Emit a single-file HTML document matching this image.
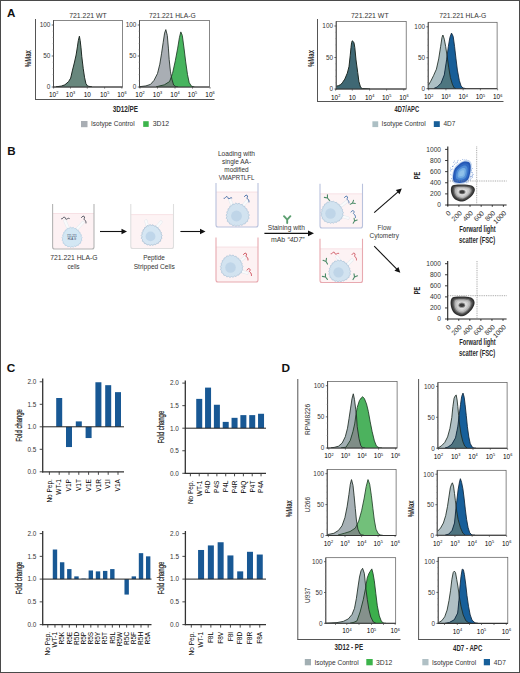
<!DOCTYPE html>
<html><head><meta charset="utf-8"><style>
html,body{margin:0;padding:0;background:#fff;}
body{width:520px;height:673px;overflow:hidden;}
svg{display:block;font-family:"Liberation Sans",sans-serif;}
</style></head><body>
<svg width="520" height="673" viewBox="0 0 520 673">
<rect x="0" y="0" width="520" height="673" fill="#fff"/>
<text x="7" y="16.8" font-size="11.6" fill="#111" font-weight="bold">A</text>
<line x1="35.5" y1="19" x2="35.5" y2="99.5" stroke="#555" stroke-width="1"/>
<line x1="35" y1="99.5" x2="214.5" y2="99.5" stroke="#555" stroke-width="1"/>
<text x="69.2" y="17.7" font-size="6.8" fill="#333" textLength="37.5" lengthAdjust="spacingAndGlyphs">721.221 WT</text>
<text x="149" y="17.7" font-size="6.8" fill="#333" textLength="46.8" lengthAdjust="spacingAndGlyphs">721.221 HLA-G</text>
<text x="31" y="58.7" font-size="9.4" text-anchor="middle" fill="#2a2a2a" font-weight="bold" textLength="17" lengthAdjust="spacingAndGlyphs" transform="rotate(-90 31 58.7)">%Max</text>
<rect x="53.5" y="20.5" width="69" height="66.5" fill="none" stroke="#555" stroke-width="0.7" />
<clipPath id="c1"><rect x="53.5" y="20.5" width="69" height="66.5"/></clipPath>
<g clip-path="url(#c1)">
<path d="M55.5,87 L55.5,86.8 L56,86.8 L56.5,86.73 L57,86.67 L57.5,86.6 L58,86.54 L58.5,86.47 L59,86.4 L59.5,86.34 L60,86.27 L60.5,86.21 L61,86.14 L61.5,86.03 L62,85.85 L62.5,85.67 L63,85.49 L63.5,85.31 L64,85.12 L64.5,84.94 L65,84.71 L65.5,84.28 L66,83.85 L66.5,83.42 L67,82.99 L67.5,82.56 L68,82.13 L68.5,81.7 L69,80.88 L69.5,80.06 L70,79.25 L70.5,78.43 L71,76.77 L71.5,74.54 L72,72.32 L72.5,70.1 L73,68.13 L73.5,66.16 L74,64.18 L74.5,62.11 L75,59.89 L75.5,57.67 L76,55.44 L76.5,52.51 L77,49.39 L77.5,46.21 L78,42.77 L78.5,39.88 L79,37.84 L79.5,36.76 L80,39.57 L80.5,43.36 L81,47.8 L81.5,53.36 L82,58.36 L82.5,62.5 L83,66.64 L83.5,70.35 L84,73.78 L84.5,77.2 L85,79.45 L85.5,81.7 L86,83.65 L86.5,84.42 L87,85.18 L87.5,85.95 L88,86.17 L88.5,86.26 L89,86.35 L89.5,86.45 L90,86.54 L90.5,86.63 L91,86.72 L91.5,86.81 L92,86.9 L92.5,86.9 L92.5,87Z" fill="#68877d"/>
<path d="M56,86.8 L61.3,86.1 L64.9,84.8 L68.5,81.7 L70.7,78.1 L72.5,70.1 L74.3,63 L76.1,55 L77.4,46.9 L78.3,40.7 L79.4,36.2 L80.2,40.7 L81,47.8 L81.8,56.7 L83.2,68.3 L84.5,77.2 L85.9,83.5 L87.6,86.1 L92,86.9" fill="none" stroke="#1e2a24" stroke-width="1.0" stroke-linejoin="round"/>
</g>
<line x1="53.5" y1="20.5" x2="53.5" y2="87.5" stroke="#444" stroke-width="0.9"/>
<line x1="53" y1="87" x2="122.5" y2="87" stroke="#333" stroke-width="1.1"/>
<line x1="51.7" y1="25" x2="53.5" y2="25" stroke="#444" stroke-width="0.8"/>
<text x="50.3" y="27.3" font-size="6.4" text-anchor="end" fill="#333">100</text>
<line x1="51.7" y1="56" x2="53.5" y2="56" stroke="#444" stroke-width="0.8"/>
<text x="50.3" y="58.3" font-size="6.4" text-anchor="end" fill="#333">50</text>
<line x1="51.7" y1="87" x2="53.5" y2="87" stroke="#444" stroke-width="0.8"/>
<text x="50.3" y="89.3" font-size="6.4" text-anchor="end" fill="#333">0</text>
<line x1="52.5" y1="80.8" x2="53.5" y2="80.8" stroke="#888" stroke-width="0.5"/>
<line x1="52.5" y1="74.6" x2="53.5" y2="74.6" stroke="#888" stroke-width="0.5"/>
<line x1="52.5" y1="68.4" x2="53.5" y2="68.4" stroke="#888" stroke-width="0.5"/>
<line x1="52.5" y1="62.2" x2="53.5" y2="62.2" stroke="#888" stroke-width="0.5"/>
<line x1="52.5" y1="49.8" x2="53.5" y2="49.8" stroke="#888" stroke-width="0.5"/>
<line x1="52.5" y1="43.6" x2="53.5" y2="43.6" stroke="#888" stroke-width="0.5"/>
<line x1="52.5" y1="37.4" x2="53.5" y2="37.4" stroke="#888" stroke-width="0.5"/>
<line x1="52.5" y1="31.2" x2="53.5" y2="31.2" stroke="#888" stroke-width="0.5"/>
<line x1="53.6" y1="87" x2="53.6" y2="88.6" stroke="#444" stroke-width="0.7"/>
<text x="48.97" y="96.6" font-size="6.4">10</text>
<text x="56.19" y="93.9" font-size="3.84">2</text>
<line x1="70.5" y1="87" x2="70.5" y2="88.6" stroke="#444" stroke-width="0.7"/>
<text x="65.87" y="96.6" font-size="6.4">10</text>
<text x="73.09" y="93.9" font-size="3.84">3</text>
<line x1="87.3" y1="87" x2="87.3" y2="88.6" stroke="#444" stroke-width="0.7"/>
<text x="83.74" y="96.6" font-size="6.4">10</text>
<line x1="104.6" y1="87" x2="104.6" y2="88.6" stroke="#444" stroke-width="0.7"/>
<text x="99.97" y="96.6" font-size="6.4">10</text>
<text x="107.19" y="93.9" font-size="3.84">5</text>
<line x1="121.9" y1="87" x2="121.9" y2="88.6" stroke="#444" stroke-width="0.7"/>
<text x="117.27" y="96.6" font-size="6.4">10</text>
<text x="124.49" y="93.9" font-size="3.84">6</text>
<rect x="139.5" y="20.5" width="70" height="66.5" fill="none" stroke="#555" stroke-width="0.7" />
<clipPath id="c2"><rect x="139.5" y="20.5" width="70" height="66.5"/></clipPath>
<g clip-path="url(#c2)">
<path d="M139.5,87 L139.5,86.7 L140,86.64 L140.5,86.58 L141,86.51 L141.5,86.45 L142,86.39 L142.5,86.33 L143,86.26 L143.5,86.2 L144,86.14 L144.5,86.08 L145,86.01 L145.5,85.95 L146,85.87 L146.5,85.7 L147,85.54 L147.5,85.38 L148,85.22 L148.5,85.05 L149,84.89 L149.5,84.73 L150,84.56 L150.5,84.4 L151,83.83 L151.5,83.26 L152,82.69 L152.5,82.11 L153,81.54 L153.5,80.97 L154,80.4 L154.5,79.41 L155,78.43 L155.5,77.44 L156,76.46 L156.5,75.47 L157,74.49 L157.5,73.5 L158,71.48 L158.5,69.46 L159,67.43 L159.5,65.41 L160,62.98 L160.5,59.92 L161,56.86 L161.5,53.8 L162,50.42 L162.5,47.04 L163,43.65 L163.5,40.33 L164,37.04 L164.5,33.76 L165,31.93 L165.5,30.48 L166,30.37 L166.5,32.31 L167,34.24 L167.5,37.71 L168,43.48 L168.5,49.54 L169,56.73 L169.5,62.5 L170,67.33 L170.5,71.73 L171,74.4 L171.5,77.07 L172,79.54 L172.5,81.25 L173,82.95 L173.5,84.66 L174,85.3 L174.5,85.67 L175,86.03 L175.5,86.4 L176,86.71 L176.5,86.79 L177,86.86 L177.5,86.93 L178,87 L178.5,87 L178.5,87Z" fill="#a9aeb4"/>
<path d="M155.5,87 L155.5,86.9 L156,86.9 L156.5,86.77 L157,86.63 L157.5,86.5 L158,86.36 L158.5,86.23 L159,86.1 L159.5,85.98 L160,85.86 L160.5,85.74 L161,85.62 L161.5,85.5 L162,85.38 L162.5,85.26 L163,85.14 L163.5,85.02 L164,84.9 L164.5,84.74 L165,84.42 L165.5,84.1 L166,83.78 L166.5,83.47 L167,83.15 L167.5,82.83 L168,82.52 L168.5,82.2 L169,81.88 L169.5,81.56 L170,80.4 L170.5,79.02 L171,77.64 L171.5,76.26 L172,74.88 L172.5,73.5 L173,71.23 L173.5,68.96 L174,66.7 L174.5,64.43 L175,62.16 L175.5,59.74 L176,57.1 L176.5,54.45 L177,51.8 L177.5,49.16 L178,46.26 L178.5,43.21 L179,40.15 L179.5,37.29 L180,35.21 L180.5,33.14 L181,32.37 L181.5,33.53 L182,34.7 L182.5,36.89 L183,40.63 L183.5,44.36 L184,48.1 L184.5,52.16 L185,56.22 L185.5,60.28 L186,64.02 L186.5,67.54 L187,71.07 L187.5,74.6 L188,76.98 L188.5,79.36 L189,81.75 L189.5,83.16 L190,83.92 L190.5,84.68 L191,85.44 L191.5,86.2 L192,86.34 L192.5,86.48 L193,86.61 L193.5,86.75 L194,86.89 L194.5,87 L194.9,87Z" fill="#47b45e"/>
<path d="M155.5,87 L155.5,86.9 L156,86.9 L156.5,86.77 L157,86.63 L157.5,86.5 L158,86.36 L158.5,86.23 L159,86.1 L159.5,85.98 L160,85.86 L160.5,85.74 L161,85.62 L161.5,85.5 L162,85.38 L162.5,85.26 L163,85.14 L163.5,85.02 L164,84.9 L164.5,84.74 L165,84.42 L165.5,84.1 L166,83.78 L166.5,83.47 L167,83.15 L167.5,82.83 L168,82.52 L168.5,82.2 L169,81.88 L169.5,81.56 L170,80.4 L170.5,79.02 L171,77.64 L171.5,77.07 L172,79.54 L172.5,81.25 L173,82.95 L173.5,84.66 L174,85.3 L174.5,85.67 L175,86.03 L175.5,86.4 L176,86.71 L176.5,86.79 L177,86.86 L177.5,86.93 L178,87 L178.5,87 L178.5,87Z" fill="#6e8577"/>
<path d="M139.5,86.7 L145.9,85.9 L150.5,84.4 L154,80.4 L157.5,73.5 L159.8,64.2 L161.5,53.8 L163.2,42.3 L164.6,33.1 L165.8,29.6 L167.3,35.4 L168.4,48.1 L169.2,59.6 L170.4,71.2 L171.9,79.2 L173.6,85 L175.9,86.7 L178,87" fill="none" stroke="#1e2a24" stroke-width="0.85" stroke-linejoin="round"/>
<path d="M156,86.9 L158.6,86.2 L164.4,84.8 L169.6,81.5 L172.5,73.5 L175.3,60.8 L177.7,48.1 L179.4,37.7 L180.8,31.9 L182.3,35.4 L184,48.1 L185.7,61.9 L187.5,74.6 L189.2,82.7 L191.5,86.2 L194.4,87" fill="none" stroke="#1f3a26" stroke-width="0.85" stroke-linejoin="round"/>
</g>
<line x1="139.5" y1="20.5" x2="139.5" y2="87.5" stroke="#444" stroke-width="0.9"/>
<line x1="139" y1="87" x2="209.5" y2="87" stroke="#333" stroke-width="1.1"/>
<line x1="137.7" y1="25" x2="139.5" y2="25" stroke="#444" stroke-width="0.8"/>
<text x="136.3" y="27.3" font-size="6.4" text-anchor="end" fill="#333">100</text>
<line x1="137.7" y1="56" x2="139.5" y2="56" stroke="#444" stroke-width="0.8"/>
<text x="136.3" y="58.3" font-size="6.4" text-anchor="end" fill="#333">50</text>
<line x1="137.7" y1="87" x2="139.5" y2="87" stroke="#444" stroke-width="0.8"/>
<text x="136.3" y="89.3" font-size="6.4" text-anchor="end" fill="#333">0</text>
<line x1="138.5" y1="80.8" x2="139.5" y2="80.8" stroke="#888" stroke-width="0.5"/>
<line x1="138.5" y1="74.6" x2="139.5" y2="74.6" stroke="#888" stroke-width="0.5"/>
<line x1="138.5" y1="68.4" x2="139.5" y2="68.4" stroke="#888" stroke-width="0.5"/>
<line x1="138.5" y1="62.2" x2="139.5" y2="62.2" stroke="#888" stroke-width="0.5"/>
<line x1="138.5" y1="49.8" x2="139.5" y2="49.8" stroke="#888" stroke-width="0.5"/>
<line x1="138.5" y1="43.6" x2="139.5" y2="43.6" stroke="#888" stroke-width="0.5"/>
<line x1="138.5" y1="37.4" x2="139.5" y2="37.4" stroke="#888" stroke-width="0.5"/>
<line x1="138.5" y1="31.2" x2="139.5" y2="31.2" stroke="#888" stroke-width="0.5"/>
<line x1="140" y1="87" x2="140" y2="88.6" stroke="#444" stroke-width="0.7"/>
<text x="135.37" y="96.6" font-size="6.4">10</text>
<text x="142.59" y="93.9" font-size="3.84">2</text>
<line x1="157.5" y1="87" x2="157.5" y2="88.6" stroke="#444" stroke-width="0.7"/>
<text x="152.87" y="96.6" font-size="6.4">10</text>
<text x="160.09" y="93.9" font-size="3.84">3</text>
<line x1="175" y1="87" x2="175" y2="88.6" stroke="#444" stroke-width="0.7"/>
<text x="170.37" y="96.6" font-size="6.4">10</text>
<text x="177.59" y="93.9" font-size="3.84">4</text>
<line x1="192.5" y1="87" x2="192.5" y2="88.6" stroke="#444" stroke-width="0.7"/>
<text x="187.87" y="96.6" font-size="6.4">10</text>
<text x="195.09" y="93.9" font-size="3.84">5</text>
<line x1="210" y1="87" x2="210" y2="88.6" stroke="#444" stroke-width="0.7"/>
<text x="205.37" y="96.6" font-size="6.4">10</text>
<text x="212.59" y="93.9" font-size="3.84">6</text>
<text x="125.4" y="111.8" font-size="8.6" text-anchor="middle" fill="#2a2a2a" font-weight="bold" textLength="25.4" lengthAdjust="spacingAndGlyphs">3D12/PE</text>
<rect x="81" y="121" width="6.5" height="6.2" fill="#a9aeb4" />
<text x="91" y="126.4" font-size="6.8" fill="#333" textLength="43.6" lengthAdjust="spacingAndGlyphs">Isotype Control</text>
<rect x="143.2" y="121.2" width="5.5" height="5.7" fill="#3cb44b" />
<text x="152.7" y="126.4" font-size="6.8" fill="#333" textLength="16.5" lengthAdjust="spacingAndGlyphs">3D12</text>
<line x1="317.5" y1="19" x2="317.5" y2="101.5" stroke="#555" stroke-width="1"/>
<line x1="317" y1="101.5" x2="503.5" y2="101.5" stroke="#555" stroke-width="1"/>
<text x="351" y="17.7" font-size="6.8" fill="#333" textLength="37.6" lengthAdjust="spacingAndGlyphs">721.221 WT</text>
<text x="439.2" y="17.7" font-size="6.8" fill="#333" textLength="47.1" lengthAdjust="spacingAndGlyphs">721.221 HLA-G</text>
<text x="313.8" y="58.5" font-size="9.4" text-anchor="middle" fill="#2a2a2a" font-weight="bold" textLength="17" lengthAdjust="spacingAndGlyphs" transform="rotate(-90 313.8 58.5)">%Max</text>
<rect x="336.2" y="21.5" width="70" height="67.5" fill="none" stroke="#555" stroke-width="0.7" />
<clipPath id="c3"><rect x="336.2" y="21.5" width="70" height="67.5"/></clipPath>
<g clip-path="url(#c3)">
<path d="M336.2,89 L336.2,86.3 L336.7,86.17 L337.2,86.01 L337.7,85.85 L338.2,85.7 L338.7,85.51 L339.2,85.28 L339.7,85.05 L340.2,84.83 L340.7,84.6 L341.2,84.04 L341.7,83.48 L342.2,82.91 L342.7,82.21 L343.2,81.47 L343.7,80.73 L344.2,79.99 L344.7,79.25 L345.2,78.16 L345.7,76.98 L346.2,75.8 L346.7,74.62 L347.2,73.44 L347.7,71.65 L348.2,69.71 L348.7,67.76 L349.2,64.8 L349.7,60.3 L350.2,55.8 L350.7,50.61 L351.2,45.83 L351.7,42.26 L352.2,41.04 L352.7,41.11 L353.2,41.5 L353.7,42.37 L354.2,44.05 L354.7,46.92 L355.2,51.63 L355.7,56.8 L356.2,61.37 L356.7,65.05 L357.2,68.72 L357.7,72.4 L358.2,76.19 L358.7,79.98 L359.2,82.54 L359.7,84.28 L360.2,86.01 L360.7,87.46 L361.2,87.78 L361.7,88.09 L362.2,88.41 L362.7,88.61 L363.2,88.64 L363.7,88.66 L364.2,88.69 L364.7,88.72 L365.2,88.74 L365.7,88.77 L366.2,88.8 L366.7,88.82 L367.2,88.85 L367.7,88.88 L368.2,88.9 L368.7,88.93 L369.2,88.96 L369.7,88.98 L370.2,89 L370.5,89Z" fill="#3f6874"/>
<path d="M336.3,86.3 L338.5,85.6 L340.7,84.6 L342.3,82.8 L344.8,79.1 L347.3,73.2 L349,66.6 L350.2,55.8 L351,47.5 L351.6,42.5 L352.3,40.8 L353.2,41.5 L354,42.9 L354.8,47.5 L356,59.9 L357.7,72.4 L358.9,81.5 L360.6,87.4 L362.5,88.6 L370,89" fill="none" stroke="#1e2a24" stroke-width="1.0" stroke-linejoin="round"/>
</g>
<line x1="336.2" y1="21.5" x2="336.2" y2="89.5" stroke="#444" stroke-width="0.9"/>
<line x1="335.7" y1="89" x2="406.2" y2="89" stroke="#333" stroke-width="1.1"/>
<line x1="334.4" y1="26" x2="336.2" y2="26" stroke="#444" stroke-width="0.8"/>
<text x="333" y="28.3" font-size="6.4" text-anchor="end" fill="#333">100</text>
<line x1="334.4" y1="57.5" x2="336.2" y2="57.5" stroke="#444" stroke-width="0.8"/>
<text x="333" y="59.8" font-size="6.4" text-anchor="end" fill="#333">50</text>
<line x1="334.4" y1="89" x2="336.2" y2="89" stroke="#444" stroke-width="0.8"/>
<text x="333" y="91.3" font-size="6.4" text-anchor="end" fill="#333">0</text>
<line x1="335.2" y1="82.7" x2="336.2" y2="82.7" stroke="#888" stroke-width="0.5"/>
<line x1="335.2" y1="76.4" x2="336.2" y2="76.4" stroke="#888" stroke-width="0.5"/>
<line x1="335.2" y1="70.1" x2="336.2" y2="70.1" stroke="#888" stroke-width="0.5"/>
<line x1="335.2" y1="63.8" x2="336.2" y2="63.8" stroke="#888" stroke-width="0.5"/>
<line x1="335.2" y1="51.2" x2="336.2" y2="51.2" stroke="#888" stroke-width="0.5"/>
<line x1="335.2" y1="44.9" x2="336.2" y2="44.9" stroke="#888" stroke-width="0.5"/>
<line x1="335.2" y1="38.6" x2="336.2" y2="38.6" stroke="#888" stroke-width="0.5"/>
<line x1="335.2" y1="32.3" x2="336.2" y2="32.3" stroke="#888" stroke-width="0.5"/>
<line x1="335.6" y1="89" x2="335.6" y2="90.6" stroke="#444" stroke-width="0.7"/>
<text x="330.97" y="99.5" font-size="6.4">10</text>
<text x="338.19" y="96.8" font-size="3.84">2</text>
<line x1="352.3" y1="89" x2="352.3" y2="90.6" stroke="#444" stroke-width="0.7"/>
<text x="348.74" y="99.5" font-size="6.4">10</text>
<line x1="369.6" y1="89" x2="369.6" y2="90.6" stroke="#444" stroke-width="0.7"/>
<text x="364.97" y="99.5" font-size="6.4">10</text>
<text x="372.19" y="96.8" font-size="3.84">4</text>
<line x1="386.6" y1="89" x2="386.6" y2="90.6" stroke="#444" stroke-width="0.7"/>
<text x="381.97" y="99.5" font-size="6.4">10</text>
<text x="389.19" y="96.8" font-size="3.84">5</text>
<line x1="403.8" y1="89" x2="403.8" y2="90.6" stroke="#444" stroke-width="0.7"/>
<text x="399.17" y="99.5" font-size="6.4">10</text>
<text x="406.39" y="96.8" font-size="3.84">6</text>
<rect x="428.2" y="22.3" width="68.9" height="66.4" fill="none" stroke="#555" stroke-width="0.7" />
<clipPath id="c4"><rect x="428.2" y="22.3" width="68.9" height="66.4"/></clipPath>
<g clip-path="url(#c4)">
<path d="M428.2,88.7 L428.2,85.3 L428.7,84.63 L429.2,83.8 L429.7,82.97 L430.2,82.13 L430.7,81.3 L431.2,80.3 L431.7,79.3 L432.2,78.3 L432.7,77.3 L433.2,76.3 L433.7,75.25 L434.2,74.13 L434.7,73.01 L435.2,71.89 L435.7,70.77 L436.2,69.65 L436.7,67.86 L437.2,65.62 L437.7,63.38 L438.2,61.14 L438.7,58.9 L439.2,55.69 L439.7,52.48 L440.2,49.27 L440.7,46.04 L441.2,42.71 L441.7,39.39 L442.2,36.87 L442.7,35.53 L443.2,35.9 L443.7,37.4 L444.2,38.9 L444.7,41.34 L445.2,44.02 L445.7,46.7 L446.2,50.06 L446.7,53.41 L447.2,56.8 L447.7,60.3 L448.2,63.8 L448.7,67.3 L449.2,70.33 L449.7,73.36 L450.2,76.39 L450.7,78.63 L451.2,80.34 L451.7,82.05 L452.2,83.76 L452.7,84.94 L453.2,86 L453.7,87.06 L454.2,87.94 L454.7,88.12 L455.2,88.31 L455.7,88.49 L456.2,88.6 L456.5,88.7Z" fill="#acbfc4"/>
<path d="M433.5,88.7 L433.5,88.4 L434,88.4 L434.5,88.17 L435,87.95 L435.5,87.72 L436,87.49 L436.5,87.26 L437,87.04 L437.5,86.7 L438,86.2 L438.5,85.7 L439,85.2 L439.5,84.7 L440,84.2 L440.5,83.7 L441,83.2 L441.5,81.93 L442,80.65 L442.5,79.38 L443,78.11 L443.5,76.84 L444,75.56 L444.5,73.5 L445,70.23 L445.5,66.97 L446,63.71 L446.5,60.45 L447,56.72 L447.5,52.86 L448,49.01 L448.5,45.54 L449,42.63 L449.5,39.72 L450,37.13 L450.5,35.79 L451,34.44 L451.5,33.1 L452,34.07 L452.5,35.04 L453,36.01 L453.5,38.61 L454,42.29 L454.5,45.96 L455,50.19 L455.5,54.54 L456,58.9 L456.5,62.9 L457,66.9 L457.5,70.64 L458,73.35 L458.5,76.06 L459,78.77 L459.5,81.02 L460,82.58 L460.5,84.13 L461,85.69 L461.5,86.42 L462,86.95 L462.5,87.47 L463,88 L463.5,88.1 L464,88.2 L464.5,88.3 L465,88.4 L465.5,88.5 L466,88.6 L466.5,88.6 L466.5,88.7Z" fill="#175e98"/>
<path d="M433.5,88.7 L433.5,88.4 L434,88.4 L434.5,88.17 L435,87.95 L435.5,87.72 L436,87.49 L436.5,87.26 L437,87.04 L437.5,86.7 L438,86.2 L438.5,85.7 L439,85.2 L439.5,84.7 L440,84.2 L440.5,83.7 L441,83.2 L441.5,81.93 L442,80.65 L442.5,79.38 L443,78.11 L443.5,76.84 L444,75.56 L444.5,73.5 L445,70.23 L445.5,66.97 L446,63.71 L446.5,60.45 L447,56.72 L447.5,58.9 L448,62.4 L448.5,65.9 L449,69.12 L449.5,72.15 L450,75.18 L450.5,77.94 L451,79.65 L451.5,81.36 L452,83.07 L452.5,84.52 L453,85.58 L453.5,86.63 L454,87.69 L454.5,88.05 L455,88.23 L455.5,88.42 L456,88.6 L456.5,88.6 L456.5,88.7Z" fill="#4e7680"/>
<path d="M428.3,85.3 L430.7,81.3 L433.5,75.7 L436.4,69.2 L438.7,58.9 L440.6,46.7 L442,37.4 L442.9,35 L444.3,39.2 L445.7,46.7 L447.1,56.1 L448.7,67.3 L450.4,77.6 L452.3,84.1 L454.1,87.9 L456,88.6" fill="none" stroke="#1e2a24" stroke-width="0.85" stroke-linejoin="round"/>
<path d="M434,88.4 L437.3,86.9 L441,83.2 L444.3,74.8 L446.6,59.8 L448.3,46.7 L449.9,37.4 L451.5,33.1 L453.2,36.4 L454.6,46.7 L456,58.9 L457.4,70.1 L459.3,80.4 L461.1,86 L463,88 L466,88.6" fill="none" stroke="#10263a" stroke-width="0.85" stroke-linejoin="round"/>
</g>
<line x1="428.2" y1="22.3" x2="428.2" y2="89.2" stroke="#444" stroke-width="0.9"/>
<line x1="427.7" y1="88.7" x2="497.1" y2="88.7" stroke="#333" stroke-width="1.1"/>
<line x1="426.4" y1="26.8" x2="428.2" y2="26.8" stroke="#444" stroke-width="0.8"/>
<text x="425" y="29.1" font-size="6.4" text-anchor="end" fill="#333">100</text>
<line x1="426.4" y1="57.75" x2="428.2" y2="57.75" stroke="#444" stroke-width="0.8"/>
<text x="425" y="60.05" font-size="6.4" text-anchor="end" fill="#333">50</text>
<line x1="426.4" y1="88.7" x2="428.2" y2="88.7" stroke="#444" stroke-width="0.8"/>
<text x="425" y="91" font-size="6.4" text-anchor="end" fill="#333">0</text>
<line x1="427.2" y1="82.51" x2="428.2" y2="82.51" stroke="#888" stroke-width="0.5"/>
<line x1="427.2" y1="76.32" x2="428.2" y2="76.32" stroke="#888" stroke-width="0.5"/>
<line x1="427.2" y1="70.13" x2="428.2" y2="70.13" stroke="#888" stroke-width="0.5"/>
<line x1="427.2" y1="63.94" x2="428.2" y2="63.94" stroke="#888" stroke-width="0.5"/>
<line x1="427.2" y1="51.56" x2="428.2" y2="51.56" stroke="#888" stroke-width="0.5"/>
<line x1="427.2" y1="45.37" x2="428.2" y2="45.37" stroke="#888" stroke-width="0.5"/>
<line x1="427.2" y1="39.18" x2="428.2" y2="39.18" stroke="#888" stroke-width="0.5"/>
<line x1="427.2" y1="32.99" x2="428.2" y2="32.99" stroke="#888" stroke-width="0.5"/>
<line x1="428.7" y1="88.7" x2="428.7" y2="90.3" stroke="#444" stroke-width="0.7"/>
<text x="424.07" y="99.2" font-size="6.4">10</text>
<text x="431.29" y="96.5" font-size="3.84">2</text>
<line x1="445.93" y1="88.7" x2="445.93" y2="90.3" stroke="#444" stroke-width="0.7"/>
<text x="441.3" y="99.2" font-size="6.4">10</text>
<text x="448.52" y="96.5" font-size="3.84">3</text>
<line x1="463.15" y1="88.7" x2="463.15" y2="90.3" stroke="#444" stroke-width="0.7"/>
<text x="458.52" y="99.2" font-size="6.4">10</text>
<text x="465.74" y="96.5" font-size="3.84">4</text>
<line x1="480.38" y1="88.7" x2="480.38" y2="90.3" stroke="#444" stroke-width="0.7"/>
<text x="475.75" y="99.2" font-size="6.4">10</text>
<text x="482.97" y="96.5" font-size="3.84">5</text>
<line x1="497.6" y1="88.7" x2="497.6" y2="90.3" stroke="#444" stroke-width="0.7"/>
<text x="492.97" y="99.2" font-size="6.4">10</text>
<text x="500.19" y="96.5" font-size="3.84">6</text>
<text x="406.9" y="111.6" font-size="8.6" text-anchor="middle" fill="#2a2a2a" font-weight="bold" textLength="24.6" lengthAdjust="spacingAndGlyphs">4D7/APC</text>
<rect x="372.4" y="121.3" width="5.8" height="5.8" fill="#acbfc4" />
<text x="381.6" y="126.4" font-size="6.8" fill="#333" textLength="44.1" lengthAdjust="spacingAndGlyphs">Isotype Control</text>
<rect x="433.8" y="121.2" width="6" height="5.8" fill="#175e98" />
<text x="443.5" y="126.4" font-size="6.8" fill="#333" textLength="11.9" lengthAdjust="spacingAndGlyphs">4D7</text>
<text x="7.2" y="154.7" font-size="11.6" fill="#111" font-weight="bold">B</text>
<rect x="52.6" y="213.5" width="41.4" height="35.5" fill="#fdf1f3" />
<line x1="52.6" y1="213.5" x2="94" y2="213.5" stroke="#f2d2d6" stroke-width="0.6"/>
<path d="M52.6,204 L52.6,247 Q52.6,249 54.6,249 L92,249 Q94,249 94,247 L94,204" fill="none" stroke="#b4b4b4" stroke-width="1.1"/>
<line x1="69" y1="230" x2="65" y2="221" stroke="#e4e9ee" stroke-width="3.2" stroke-linecap="round"/>
<line x1="69" y1="230" x2="65" y2="221" stroke="#f9fafb" stroke-width="2.2" stroke-linecap="round"/>
<line x1="76" y1="230" x2="83" y2="222.5" stroke="#e4e9ee" stroke-width="3.2" stroke-linecap="round"/>
<line x1="76" y1="230" x2="83" y2="222.5" stroke="#f9fafb" stroke-width="2.2" stroke-linecap="round"/>
<g opacity="1"><path d="M82.14,237.6 L81.32,238.95 L81.9,240.54 L80.61,241.58 L80.61,243.2 L79,243.75 L78.5,245.22 L76.81,245.24 L75.97,246.51 L74.4,246.1 L73.28,247.18 L71.9,246.48 L70.5,247.33 L69.33,246.36 L67.69,246.82 L66.8,245.54 L65.1,245.45 L64.65,243.88 L63.14,243.23 L63.28,241.54 L62.12,240.47 L62.81,238.91 L62.02,237.6 L63.08,236.33 L62.6,234.87 L63.85,233.93 L63.69,232.32 L65.07,231.69 L65.33,230.02 L66.85,229.74 L67.61,228.21 L69.21,228.42 L70.42,227.27 L71.9,228.06 L73.36,227.42 L74.52,228.68 L76.05,228.52 L76.76,230.04 L78.27,230.25 L78.58,231.81 L80.06,232.35 L80.04,233.88 L81.42,234.8 L81.04,236.29Z" fill="#d3e7f4" stroke="#b6cfe2" stroke-width="0.8" stroke-linejoin="round"/>
<circle cx="70.9" cy="238.6" r="4.7" fill="#d3e7f4"/></g>
<text x="71.9" y="236.8" font-size="2.7" text-anchor="middle" fill="#2a3550">721.221</text>
<text x="71.9" y="240.2" font-size="2.7" text-anchor="middle" fill="#2a3550">HLA-G</text>
<path d="M61.5,219 c1.2,0.8 1.6,-2.8 3.2,-1.8 c1.2,0.8 0.4,2.2 1.8,2 c1.2,-0.3 1.6,-1.5 2.8,-0.8" fill="none" stroke="#3a3f4a" stroke-width="0.85" stroke-linecap="round"/>
<path d="M81.5,217.5 c0.8,-1.5 2.5,-2 3,-0.5 c0.5,1.5 -1.5,2 0,2.8 c1.2,0.6 1.6,2 1.5,3.2" fill="none" stroke="#3a3f4a" stroke-width="0.85" stroke-linecap="round"/>
<text x="73.85" y="260.4" font-size="6.9" text-anchor="middle" fill="#333" textLength="47.3" lengthAdjust="spacingAndGlyphs">721.221 HLA-G</text>
<text x="73.55" y="268.5" font-size="6.9" text-anchor="middle" fill="#333" textLength="12.1" lengthAdjust="spacingAndGlyphs">cells</text>
<line x1="100" y1="231.5" x2="122" y2="231.5" stroke="#111" stroke-width="1.1"/>
<path d="M127,231.5 L121.5,234.3 L121.5,228.7Z" fill="#111"/>
<rect x="130.8" y="214.6" width="42.7" height="33.9" fill="#fdf3f4" />
<line x1="130.8" y1="214.6" x2="173.5" y2="214.6" stroke="#f2d2d6" stroke-width="0.6"/>
<path d="M130.8,204 L130.8,246.5 Q130.8,248.5 132.8,248.5 L171.5,248.5 Q173.5,248.5 173.5,246.5 L173.5,204" fill="none" stroke="#dedede" stroke-width="1.1"/>
<line x1="148" y1="229" x2="146" y2="221" stroke="#e4e9ee" stroke-width="3.2" stroke-linecap="round"/>
<line x1="148" y1="229" x2="146" y2="221" stroke="#f9fafb" stroke-width="2.2" stroke-linecap="round"/>
<line x1="155" y1="229" x2="161" y2="222" stroke="#e4e9ee" stroke-width="3.2" stroke-linecap="round"/>
<line x1="155" y1="229" x2="161" y2="222" stroke="#f9fafb" stroke-width="2.2" stroke-linecap="round"/>
<g opacity="0.95"><path d="M162.17,235.4 L161.32,236.81 L161.93,238.46 L160.58,239.55 L160.59,241.24 L158.9,241.81 L158.39,243.35 L156.62,243.36 L155.74,244.69 L154.1,244.26 L152.94,245.39 L151.5,244.66 L150.04,245.55 L148.82,244.54 L147.11,245.01 L146.18,243.68 L144.41,243.58 L143.95,241.95 L142.37,241.27 L142.51,239.5 L141.31,238.39 L142.02,236.76 L141.2,235.4 L142.3,234.08 L141.81,232.55 L143.11,231.57 L142.94,229.9 L144.38,229.23 L144.65,227.5 L146.23,227.21 L147.03,225.61 L148.69,225.83 L149.95,224.63 L151.5,225.45 L153.03,224.79 L154.23,226.11 L155.82,225.94 L156.57,227.52 L158.14,227.74 L158.46,229.37 L160.01,229.93 L159.98,231.53 L161.43,232.48 L161.03,234.03Z" fill="#d3e6f3" stroke="#a9c0d4" stroke-width="0.8" stroke-linejoin="round"/>
<circle cx="150.5" cy="236.4" r="4.9" fill="#bcd5ea"/></g>
<text x="154" y="260.2" font-size="6.9" text-anchor="middle" fill="#333" textLength="21.6" lengthAdjust="spacingAndGlyphs">Peptide</text>
<text x="154.25" y="268.5" font-size="6.9" text-anchor="middle" fill="#333" textLength="41.1" lengthAdjust="spacingAndGlyphs">Stripped Cells</text>
<line x1="180.4" y1="231.5" x2="200.5" y2="231.5" stroke="#111" stroke-width="1.1"/>
<path d="M205.5,231.5 L200,234.3 L200,228.7Z" fill="#111"/>
<text x="236.5" y="155.6" font-size="6.9" text-anchor="middle" fill="#333" textLength="37.1" lengthAdjust="spacingAndGlyphs">Loading with</text>
<text x="236.5" y="163.7" font-size="6.9" text-anchor="middle" fill="#333" textLength="29.1" lengthAdjust="spacingAndGlyphs">single AA-</text>
<text x="236.5" y="171.8" font-size="6.9" text-anchor="middle" fill="#333" textLength="24.3" lengthAdjust="spacingAndGlyphs">modified</text>
<text x="236.5" y="179.9" font-size="6.9" text-anchor="middle" fill="#333" textLength="35.7" lengthAdjust="spacingAndGlyphs">VMAPRTLFL</text>
<rect x="216" y="192" width="42" height="35" fill="#fdf2f3" />
<line x1="216" y1="192" x2="258" y2="192" stroke="#f2d2d6" stroke-width="0.6"/>
<path d="M216,183 L216,225 Q216,227 218,227 L256,227 Q258,227 258,225 L258,183" fill="none" stroke="#b9c2dd" stroke-width="1.1"/>
<line x1="233" y1="207" x2="230" y2="200" stroke="#e4e9ee" stroke-width="3.2" stroke-linecap="round"/>
<line x1="233" y1="207" x2="230" y2="200" stroke="#f9fafb" stroke-width="2.2" stroke-linecap="round"/>
<line x1="242" y1="207" x2="247" y2="201" stroke="#e4e9ee" stroke-width="3.2" stroke-linecap="round"/>
<line x1="242" y1="207" x2="247" y2="201" stroke="#f9fafb" stroke-width="2.2" stroke-linecap="round"/>
<g opacity="1"><path d="M249.37,215 L248.42,216.57 L249.1,218.41 L247.6,219.61 L247.61,221.49 L245.73,222.13 L245.16,223.84 L243.19,223.86 L242.22,225.33 L240.39,224.86 L239.1,226.11 L237.5,225.3 L235.88,226.29 L234.52,225.16 L232.62,225.69 L231.58,224.21 L229.61,224.1 L229.1,222.28 L227.34,221.53 L227.5,219.57 L226.16,218.33 L226.96,216.52 L226.05,215 L227.27,213.53 L226.72,211.83 L228.17,210.74 L227.98,208.88 L229.58,208.14 L229.88,206.21 L231.64,205.89 L232.53,204.11 L234.38,204.36 L235.78,203.03 L237.5,203.94 L239.2,203.2 L240.54,204.66 L242.31,204.48 L243.13,206.23 L244.89,206.47 L245.24,208.29 L246.97,208.92 L246.94,210.69 L248.54,211.76 L248.1,213.48Z" fill="#d2e3f0" stroke="#b3c8da" stroke-width="0.8" stroke-linejoin="round"/>
<circle cx="236.5" cy="216" r="5.45" fill="#bfd5e8"/></g>
<path d="M224,198.5 c1.2,0.8 1.6,-2.8 3.2,-1.8 c1.2,0.8 0.4,2.2 1.8,2 c1.2,-0.3 1.6,-1.5 2.8,-0.8" fill="none" stroke="#2d5b9c" stroke-width="0.85" stroke-linecap="round"/>
<path d="M244.5,196.5 c0.8,-1.5 2.5,-2 3,-0.5 c0.5,1.5 -1.5,2 0,2.8 c1.2,0.6 1.6,2 1.5,3.2" fill="none" stroke="#2d5b9c" stroke-width="0.85" stroke-linecap="round"/>
<rect x="216" y="247" width="42" height="35" fill="#fdf2f3" />
<line x1="216" y1="247" x2="258" y2="247" stroke="#f2d2d6" stroke-width="0.6"/>
<path d="M216,237.4 L216,280 Q216,282 218,282 L256,282 Q258,282 258,280 L258,237.4" fill="none" stroke="#e8a9b0" stroke-width="1.1"/>
<line x1="238" y1="263" x2="245" y2="257" stroke="#e4e9ee" stroke-width="3.2" stroke-linecap="round"/>
<line x1="238" y1="263" x2="245" y2="257" stroke="#f9fafb" stroke-width="2.2" stroke-linecap="round"/>
<line x1="240" y1="271" x2="247" y2="273" stroke="#e4e9ee" stroke-width="3.2" stroke-linecap="round"/>
<line x1="240" y1="271" x2="247" y2="273" stroke="#f9fafb" stroke-width="2.2" stroke-linecap="round"/>
<g opacity="1"><path d="M243.05,266.5 L242.12,268.03 L242.78,269.81 L241.33,270.99 L241.33,272.82 L239.5,273.44 L238.95,275.09 L237.04,275.11 L236.09,276.54 L234.31,276.09 L233.05,277.31 L231.5,276.52 L229.92,277.48 L228.6,276.38 L226.75,276.9 L225.75,275.45 L223.83,275.35 L223.33,273.58 L221.62,272.85 L221.78,270.94 L220.48,269.74 L221.25,267.97 L220.36,266.5 L221.55,265.07 L221.01,263.42 L222.43,262.36 L222.24,260.55 L223.8,259.83 L224.09,257.95 L225.8,257.64 L226.66,255.91 L228.46,256.15 L229.83,254.85 L231.5,255.74 L233.15,255.02 L234.45,256.45 L236.17,256.27 L236.98,257.97 L238.68,258.21 L239.03,259.97 L240.71,260.58 L240.68,262.31 L242.24,263.35 L241.81,265.02Z" fill="#d2e3f0" stroke="#b3c8da" stroke-width="0.8" stroke-linejoin="round"/>
<circle cx="230.5" cy="267.5" r="5.3" fill="#bfd5e8"/></g>
<path d="M243.5,254.5 c0.8,-1.5 2.5,-2 3,-0.5 c0.5,1.5 -1.5,2 0,2.8 c1.2,0.6 1.6,2 1.5,3.2" fill="none" stroke="#c73a47" stroke-width="0.85" stroke-linecap="round"/>
<path d="M247,270 c0.8,-1.5 2.5,-2 3,-0.5 c0.5,1.5 -1.5,2 0,2.8 c1.2,0.6 1.6,2 1.5,3.2" fill="none" stroke="#c73a47" stroke-width="0.85" stroke-linecap="round"/>
<path d="M284,216.2 L287.2,219.6 L290.4,216.2 M287.2,219.6 L287.2,223" stroke="#5c9f70" stroke-width="1.9" fill="none" stroke-linecap="round" stroke-linejoin="round"/>
<text x="286.3" y="229.8" font-size="6.9" text-anchor="middle" fill="#333" textLength="37" lengthAdjust="spacingAndGlyphs">Staining with</text>
<line x1="264.4" y1="233.3" x2="308.5" y2="233.3" stroke="#111" stroke-width="1.2"/>
<path d="M314,233.3 L308,236.2 L308,230.4Z" fill="#111"/>
<text x="287.7" y="241.7" font-size="6.9" text-anchor="middle" fill="#333" textLength="33.4" lengthAdjust="spacingAndGlyphs">mAb <tspan font-style="italic">“4D7”</tspan></text>
<rect x="320" y="193.8" width="42.5" height="34.2" fill="#fdf3f4" />
<line x1="320" y1="193.8" x2="362.5" y2="193.8" stroke="#f2d2d6" stroke-width="0.6"/>
<path d="M320,183.8 L320,226 Q320,228 322,228 L360.5,228 Q362.5,228 362.5,226 L362.5,183.8" fill="none" stroke="#b9c2dd" stroke-width="1.1"/>
<line x1="340" y1="207" x2="346" y2="202" stroke="#e4e9ee" stroke-width="3.2" stroke-linecap="round"/>
<line x1="340" y1="207" x2="346" y2="202" stroke="#f9fafb" stroke-width="2.2" stroke-linecap="round"/>
<line x1="341" y1="216" x2="348" y2="218" stroke="#e4e9ee" stroke-width="3.2" stroke-linecap="round"/>
<line x1="341" y1="216" x2="348" y2="218" stroke="#f9fafb" stroke-width="2.2" stroke-linecap="round"/>
<g opacity="1"><path d="M343.44,212.5 L342.52,214.01 L343.17,215.78 L341.73,216.95 L341.73,218.76 L339.93,219.37 L339.38,221.01 L337.48,221.03 L336.54,222.45 L334.79,222 L333.54,223.21 L332,222.42 L330.44,223.37 L329.13,222.29 L327.3,222.8 L326.3,221.37 L324.4,221.27 L323.91,219.51 L322.22,218.79 L322.37,216.9 L321.08,215.71 L321.84,213.96 L320.97,212.5 L322.15,211.08 L321.61,209.45 L323.01,208.4 L322.83,206.61 L324.38,205.89 L324.66,204.03 L326.36,203.72 L327.21,202.01 L328.99,202.25 L330.34,200.96 L332,201.84 L333.63,201.13 L334.92,202.54 L336.63,202.36 L337.43,204.06 L339.12,204.29 L339.46,206.04 L341.12,206.64 L341.09,208.35 L342.64,209.38 L342.22,211.03Z" fill="#d2e3f0" stroke="#b3c8da" stroke-width="0.8" stroke-linejoin="round"/>
<circle cx="330.5" cy="213.5" r="5.25" fill="#bfd5e8"/></g>
<path d="M344.5,197.5 c0.8,-1.5 2.5,-2 3,-0.5 c0.5,1.5 -1.5,2 0,2.8 c1.2,0.6 1.6,2 1.5,3.2" fill="none" stroke="#3a6aa8" stroke-width="0.85" stroke-linecap="round"/>
<path d="M351,212 c0.8,-1.5 2.5,-2 3,-0.5 c0.5,1.5 -1.5,2 0,2.8 c1.2,0.6 1.6,2 1.5,3.2" fill="none" stroke="#3a6aa8" stroke-width="0.85" stroke-linecap="round"/>
<g transform="rotate(-40 327.5 198)">
<path d="M327.5,201 L327.5,198 M327.5,198 L325.5,195.5 M327.5,198 L329.5,195.5" stroke="#4a8a66" stroke-width="1.1" fill="none" stroke-linecap="round"/>
</g>
<g transform="rotate(60 352.5 203)">
<path d="M352.5,205.7 L352.5,203 M352.5,203 L350.7,200.75 M352.5,203 L354.3,200.75" stroke="#4a8a66" stroke-width="0.99" fill="none" stroke-linecap="round"/>
</g>
<g transform="rotate(30 354.5 221)">
<path d="M354.5,223.7 L354.5,221 M354.5,221 L352.7,218.75 M354.5,221 L356.3,218.75" stroke="#4a8a66" stroke-width="0.99" fill="none" stroke-linecap="round"/>
</g>
<rect x="320" y="248.8" width="42.5" height="33.7" fill="#fdf3f4" />
<line x1="320" y1="248.8" x2="362.5" y2="248.8" stroke="#f2d2d6" stroke-width="0.6"/>
<path d="M320,238.8 L320,280.5 Q320,282.5 322,282.5 L360.5,282.5 Q362.5,282.5 362.5,280.5 L362.5,238.8" fill="none" stroke="#e8a9b0" stroke-width="1.1"/>
<line x1="342" y1="264" x2="337" y2="257" stroke="#e4e9ee" stroke-width="3.2" stroke-linecap="round"/>
<line x1="342" y1="264" x2="337" y2="257" stroke="#f9fafb" stroke-width="2.2" stroke-linecap="round"/>
<line x1="346" y1="266" x2="352" y2="260" stroke="#e4e9ee" stroke-width="3.2" stroke-linecap="round"/>
<line x1="346" y1="266" x2="352" y2="260" stroke="#f9fafb" stroke-width="2.2" stroke-linecap="round"/>
<g opacity="1"><path d="M350.72,271.3 L349.82,272.78 L350.46,274.52 L349.05,275.66 L349.05,277.44 L347.28,278.04 L346.74,279.65 L344.88,279.67 L343.96,281.06 L342.24,280.61 L341.01,281.8 L339.5,281.03 L337.97,281.96 L336.68,280.9 L334.89,281.4 L333.91,280 L332.05,279.9 L331.56,278.18 L329.9,277.47 L330.05,275.61 L328.79,274.45 L329.54,272.73 L328.68,271.3 L329.84,269.91 L329.31,268.31 L330.68,267.27 L330.51,265.52 L332.02,264.82 L332.3,262.99 L333.96,262.69 L334.8,261.01 L336.55,261.24 L337.87,259.98 L339.5,260.84 L341.1,260.15 L342.37,261.53 L344.04,261.35 L344.82,263.02 L346.48,263.24 L346.82,264.96 L348.45,265.55 L348.42,267.23 L349.94,268.24 L349.52,269.86Z" fill="#d2e3f0" stroke="#b3c8da" stroke-width="0.8" stroke-linejoin="round"/>
<circle cx="338.5" cy="272.3" r="5.15" fill="#bfd5e8"/></g>
<path d="M331,254 c1.2,0.8 1.6,-2.8 3.2,-1.8 c1.2,0.8 0.4,2.2 1.8,2 c1.2,-0.3 1.6,-1.5 2.8,-0.8" fill="none" stroke="#c94452" stroke-width="0.85" stroke-linecap="round"/>
<path d="M352,254.5 c0.8,-1.5 2.5,-2 3,-0.5 c0.5,1.5 -1.5,2 0,2.8 c1.2,0.6 1.6,2 1.5,3.2" fill="none" stroke="#c94452" stroke-width="0.85" stroke-linecap="round"/>
<g transform="rotate(-30 326 261.5)">
<path d="M326,264.5 L326,261.5 M326,261.5 L324,259 M326,261.5 L328,259" stroke="#4a8a66" stroke-width="1.1" fill="none" stroke-linecap="round"/>
</g>
<g transform="rotate(-40 325.5 277)">
<path d="M325.5,280 L325.5,277 M325.5,277 L323.5,274.5 M325.5,277 L327.5,274.5" stroke="#4a8a66" stroke-width="1.1" fill="none" stroke-linecap="round"/>
</g>
<g transform="rotate(30 354.5 277)">
<path d="M354.5,280 L354.5,277 M354.5,277 L352.5,274.5 M354.5,277 L356.5,274.5" stroke="#4a8a66" stroke-width="1.1" fill="none" stroke-linecap="round"/>
</g>
<line x1="374.2" y1="212.7" x2="398.03" y2="191.89" stroke="#111" stroke-width="1.1"/>
<path d="M401.8,188.6 L399.5,194.33 L395.82,190.11Z" fill="#111"/>
<line x1="374.2" y1="246.1" x2="396.8" y2="269.22" stroke="#111" stroke-width="1.1"/>
<path d="M400.3,272.8 L394.45,270.82 L398.46,266.91Z" fill="#111"/>
<text x="384.3" y="229.8" font-size="6.9" text-anchor="middle" fill="#3a3a3a" textLength="13.4" lengthAdjust="spacingAndGlyphs">Flow</text>
<text x="384.2" y="237.6" font-size="6.9" text-anchor="middle" fill="#3a3a3a" textLength="29.4" lengthAdjust="spacingAndGlyphs">Cytometry</text>
<line x1="447.8" y1="146.5" x2="447.8" y2="205.5" stroke="#222" stroke-width="1.1"/>
<line x1="447.3" y1="205" x2="506.6" y2="205" stroke="#222" stroke-width="1.1"/>
<line x1="445.1" y1="205" x2="447.8" y2="205" stroke="#222" stroke-width="0.9"/>
<text x="441" y="207.3" font-size="6.6" text-anchor="end" fill="#333">0</text>
<line x1="445.1" y1="193.88" x2="447.8" y2="193.88" stroke="#222" stroke-width="0.9"/>
<text x="441" y="196.18" font-size="6.6" text-anchor="end" fill="#333">200</text>
<line x1="445.1" y1="182.76" x2="447.8" y2="182.76" stroke="#222" stroke-width="0.9"/>
<text x="441" y="185.06" font-size="6.6" text-anchor="end" fill="#333">400</text>
<line x1="445.1" y1="171.64" x2="447.8" y2="171.64" stroke="#222" stroke-width="0.9"/>
<text x="441" y="173.94" font-size="6.6" text-anchor="end" fill="#333">600</text>
<line x1="445.1" y1="160.52" x2="447.8" y2="160.52" stroke="#222" stroke-width="0.9"/>
<text x="441" y="162.82" font-size="6.6" text-anchor="end" fill="#333">800</text>
<line x1="445.1" y1="149.4" x2="447.8" y2="149.4" stroke="#222" stroke-width="0.9"/>
<text x="441" y="151.7" font-size="6.6" text-anchor="end" fill="#333">1000</text>
<line x1="447.8" y1="205" x2="447.8" y2="206.8" stroke="#222" stroke-width="0.9"/>
<text x="451.2" y="213.7" font-size="6.8" text-anchor="end" fill="#333" transform="rotate(-45 451.2 213.7)">0</text>
<line x1="458.92" y1="205" x2="458.92" y2="206.8" stroke="#222" stroke-width="0.9"/>
<text x="462.32" y="213.7" font-size="6.8" text-anchor="end" fill="#333" transform="rotate(-45 462.32 213.7)">200</text>
<line x1="470.04" y1="205" x2="470.04" y2="206.8" stroke="#222" stroke-width="0.9"/>
<text x="473.44" y="213.7" font-size="6.8" text-anchor="end" fill="#333" transform="rotate(-45 473.44 213.7)">400</text>
<line x1="481.16" y1="205" x2="481.16" y2="206.8" stroke="#222" stroke-width="0.9"/>
<text x="484.56" y="213.7" font-size="6.8" text-anchor="end" fill="#333" transform="rotate(-45 484.56 213.7)">600</text>
<line x1="492.28" y1="205" x2="492.28" y2="206.8" stroke="#222" stroke-width="0.9"/>
<text x="495.68" y="213.7" font-size="6.8" text-anchor="end" fill="#333" transform="rotate(-45 495.68 213.7)">800</text>
<line x1="503.4" y1="205" x2="503.4" y2="206.8" stroke="#222" stroke-width="0.9"/>
<text x="506.8" y="213.7" font-size="6.8" text-anchor="end" fill="#333" transform="rotate(-45 506.8 213.7)">1000</text>
<circle cx="457.43" cy="182.46" r="0.45" fill="#5d86cc"/>
<circle cx="456.22" cy="163.07" r="0.45" fill="#5d86cc"/>
<circle cx="451.74" cy="169.49" r="0.45" fill="#5d86cc"/>
<circle cx="471.79" cy="176.67" r="0.45" fill="#5d86cc"/>
<circle cx="472.01" cy="175.08" r="0.45" fill="#5d86cc"/>
<circle cx="470.51" cy="177" r="0.45" fill="#5d86cc"/>
<circle cx="451.56" cy="178.37" r="0.45" fill="#5d86cc"/>
<circle cx="468.89" cy="180.4" r="0.45" fill="#5d86cc"/>
<circle cx="453.57" cy="162.24" r="0.45" fill="#5d86cc"/>
<circle cx="452.59" cy="166.51" r="0.45" fill="#5d86cc"/>
<circle cx="471.2" cy="170.54" r="0.45" fill="#5d86cc"/>
<circle cx="468.18" cy="162.96" r="0.45" fill="#5d86cc"/>
<circle cx="467.77" cy="181.15" r="0.45" fill="#5d86cc"/>
<circle cx="455.15" cy="162.9" r="0.45" fill="#5d86cc"/>
<circle cx="452.68" cy="168.89" r="0.45" fill="#5d86cc"/>
<circle cx="471.03" cy="176.46" r="0.45" fill="#5d86cc"/>
<circle cx="457.36" cy="161.05" r="0.45" fill="#5d86cc"/>
<circle cx="452.08" cy="175.66" r="0.45" fill="#5d86cc"/>
<circle cx="464.88" cy="159.58" r="0.45" fill="#5d86cc"/>
<circle cx="450.31" cy="170.05" r="0.45" fill="#5d86cc"/>
<circle cx="460.5" cy="160.41" r="0.45" fill="#5d86cc"/>
<circle cx="471.41" cy="170.79" r="0.45" fill="#5d86cc"/>
<circle cx="451.93" cy="178.75" r="0.45" fill="#5d86cc"/>
<circle cx="467.95" cy="182.4" r="0.45" fill="#5d86cc"/>
<circle cx="472.57" cy="175.38" r="0.45" fill="#5d86cc"/>
<circle cx="462.79" cy="159.5" r="0.45" fill="#5d86cc"/>
<circle cx="469.03" cy="163.77" r="0.45" fill="#5d86cc"/>
<circle cx="458.12" cy="160.14" r="0.45" fill="#5d86cc"/>
<circle cx="452.54" cy="166.24" r="0.45" fill="#5d86cc"/>
<circle cx="468.13" cy="160.49" r="0.45" fill="#5d86cc"/>
<circle cx="450.85" cy="174.31" r="0.45" fill="#5d86cc"/>
<circle cx="472.19" cy="177.09" r="0.45" fill="#5d86cc"/>
<circle cx="454.61" cy="161.01" r="0.45" fill="#5d86cc"/>
<circle cx="466.22" cy="161.52" r="0.45" fill="#5d86cc"/>
<circle cx="453.43" cy="180.77" r="0.45" fill="#5d86cc"/>
<circle cx="472.27" cy="173.95" r="0.45" fill="#5d86cc"/>
<circle cx="466.57" cy="182.1" r="0.45" fill="#5d86cc"/>
<circle cx="472.39" cy="177.03" r="0.45" fill="#5d86cc"/>
<circle cx="468.69" cy="180.74" r="0.45" fill="#5d86cc"/>
<circle cx="452.8" cy="180.84" r="0.45" fill="#5d86cc"/>
<circle cx="471.02" cy="178.2" r="0.45" fill="#5d86cc"/>
<circle cx="450.7" cy="168.02" r="0.45" fill="#5d86cc"/>
<circle cx="466.7" cy="159.84" r="0.45" fill="#5d86cc"/>
<circle cx="454.44" cy="182.82" r="0.45" fill="#5d86cc"/>
<circle cx="471.23" cy="169.19" r="0.45" fill="#5d86cc"/>
<circle cx="466.26" cy="182.68" r="0.45" fill="#5d86cc"/>
<circle cx="453.28" cy="165.93" r="0.45" fill="#5d86cc"/>
<circle cx="472.26" cy="172.52" r="0.45" fill="#5d86cc"/>
<circle cx="454.41" cy="181.52" r="0.45" fill="#5d86cc"/>
<circle cx="472.48" cy="168.39" r="0.45" fill="#5d86cc"/>
<circle cx="450.88" cy="170.95" r="0.45" fill="#5d86cc"/>
<circle cx="457.54" cy="162.2" r="0.45" fill="#5d86cc"/>
<circle cx="471" cy="164.31" r="0.45" fill="#5d86cc"/>
<circle cx="469.86" cy="162.68" r="0.45" fill="#5d86cc"/>
<circle cx="453.68" cy="179.85" r="0.45" fill="#5d86cc"/>
<circle cx="470.57" cy="180.03" r="0.45" fill="#5d86cc"/>
<circle cx="470.64" cy="176.48" r="0.45" fill="#5d86cc"/>
<circle cx="456.7" cy="181.63" r="0.45" fill="#5d86cc"/>
<circle cx="471.57" cy="172.22" r="0.45" fill="#5d86cc"/>
<circle cx="470.09" cy="179.41" r="0.45" fill="#5d86cc"/>
<circle cx="473.29" cy="174.38" r="0.45" fill="#5d86cc"/>
<circle cx="454.44" cy="164.67" r="0.45" fill="#5d86cc"/>
<path d="M464.51,160.16 C466.25,159.75 468.25,159.88 469.44,160.61 C470.63,161.34 471.38,162.57 471.68,164.53 C471.98,166.49 471.72,169.75 471.23,172.37 C470.75,174.98 470.11,178.32 468.77,180.21 C467.42,182.09 465.41,183.1 463.17,183.68 C460.93,184.26 457.16,184.17 455.33,183.68 C453.5,183.19 452.68,182.47 452.19,180.77 C451.71,179.07 452.04,175.67 452.42,173.49 C452.79,171.3 453.33,169.4 454.43,167.66 C455.53,165.93 457.34,164.32 459.02,163.07 C460.7,161.82 462.78,160.57 464.51,160.16Z" fill="#c5d7ef"/>
<path d="M464.2,161.6 C465.75,161.23 467.53,161.35 468.6,162 C469.67,162.65 470.33,163.75 470.6,165.5 C470.87,167.25 470.63,170.17 470.2,172.5 C469.77,174.83 469.2,177.82 468,179.5 C466.8,181.18 465,182.08 463,182.6 C461,183.12 457.63,183.03 456,182.6 C454.37,182.17 453.63,181.52 453.2,180 C452.77,178.48 453.07,175.45 453.4,173.5 C453.73,171.55 454.22,169.85 455.2,168.3 C456.18,166.75 457.8,165.32 459.3,164.2 C460.8,163.08 462.65,161.97 464.2,161.6Z" fill="#2356b4"/>
<path d="M463.78,163.52 C465.09,163.21 466.58,163.31 467.48,163.86 C468.38,164.4 468.94,165.33 469.16,166.8 C469.38,168.27 469.19,170.72 468.82,172.68 C468.46,174.64 467.98,177.14 466.98,178.56 C465.97,179.97 464.46,180.73 462.78,181.16 C461.1,181.59 458.27,181.52 456.9,181.16 C455.52,180.8 454.91,180.25 454.54,178.98 C454.18,177.7 454.43,175.15 454.71,173.52 C454.99,171.88 455.4,170.45 456.22,169.15 C457.05,167.85 458.41,166.64 459.67,165.7 C460.93,164.77 462.48,163.83 463.78,163.52Z" fill="#2f68c2"/>
<path d="M463.32,165.68 C464.34,165.44 465.52,165.51 466.22,165.94 C466.92,166.37 467.36,167.1 467.54,168.25 C467.72,169.41 467.56,171.33 467.28,172.87 C466.99,174.41 466.62,176.38 465.82,177.49 C465.03,178.6 463.84,179.2 462.52,179.54 C461.2,179.88 458.98,179.83 457.9,179.54 C456.83,179.25 456.34,178.83 456.06,177.82 C455.77,176.82 455.97,174.82 456.19,173.53 C456.41,172.25 456.73,171.12 457.38,170.1 C458.02,169.08 459.09,168.13 460.08,167.4 C461.07,166.66 462.29,165.92 463.32,165.68Z" fill="#4f8cd6"/>
<path d="M462.8,168.08 C463.51,167.91 464.33,167.97 464.82,168.26 C465.31,168.56 465.62,169.07 465.74,169.87 C465.86,170.68 465.76,172.02 465.56,173.09 C465.36,174.17 465.1,175.54 464.54,176.31 C463.99,177.09 463.16,177.5 462.24,177.74 C461.32,177.98 459.78,177.94 459.02,177.74 C458.27,177.54 457.94,177.24 457.74,176.54 C457.54,175.85 457.67,174.45 457.83,173.55 C457.98,172.66 458.2,171.88 458.66,171.16 C459.11,170.45 459.85,169.79 460.54,169.28 C461.23,168.76 462.08,168.25 462.8,168.08Z" fill="#78b0e4"/>
<path d="M462.33,170.24 C462.76,170.14 463.26,170.17 463.56,170.35 C463.86,170.53 464.05,170.84 464.12,171.33 C464.19,171.82 464.13,172.64 464.01,173.29 C463.89,173.95 463.73,174.78 463.39,175.25 C463.06,175.72 462.55,175.98 461.99,176.12 C461.43,176.26 460.49,176.24 460.03,176.12 C459.57,176 459.37,175.82 459.25,175.39 C459.13,174.97 459.21,174.12 459.3,173.57 C459.4,173.03 459.53,172.55 459.81,172.12 C460.08,171.68 460.54,171.28 460.96,170.97 C461.38,170.66 461.89,170.34 462.33,170.24Z" fill="#8fc1ea"/>
<path d="M452.4,185.53 C453.88,184.47 457.32,184.64 459.8,184.5 C462.28,184.36 465.18,184.44 467.3,184.67 C469.42,184.9 471.23,185.06 472.5,185.88 C473.77,186.69 474.85,188.1 474.9,189.57 C474.95,191.05 473.98,193.11 472.8,194.73 C471.62,196.35 469.52,198.17 467.8,199.29 C466.08,200.41 464.33,201.3 462.5,201.44 C460.67,201.59 458.4,200.91 456.8,200.15 C455.2,199.39 453.88,198.43 452.9,196.88 C451.92,195.34 450.98,192.76 450.9,190.86 C450.82,188.97 450.92,186.59 452.4,185.53Z" fill="#303030"/>
<path d="M453.62,186.31 C454.93,185.37 457.95,185.52 460.14,185.4 C462.32,185.27 464.87,185.35 466.74,185.55 C468.6,185.75 470.2,185.89 471.31,186.61 C472.43,187.33 473.38,188.56 473.42,189.86 C473.47,191.16 472.62,192.98 471.58,194.4 C470.53,195.83 468.69,197.43 467.18,198.41 C465.67,199.4 464.13,200.18 462.51,200.31 C460.9,200.43 458.9,199.84 457.5,199.17 C456.09,198.5 454.93,197.66 454.06,196.3 C453.2,194.93 452.38,192.66 452.3,191 C452.23,189.33 452.32,187.24 453.62,186.31Z" fill="#4a4a4a"/>
<path d="M454.85,187.08 C455.98,186.27 458.58,186.4 460.47,186.3 C462.36,186.19 464.56,186.25 466.17,186.43 C467.78,186.6 469.16,186.72 470.12,187.34 C471.09,187.96 471.91,189.03 471.95,190.15 C471.99,191.27 471.25,192.84 470.35,194.07 C469.45,195.3 467.86,196.69 466.55,197.54 C465.25,198.39 463.92,199.06 462.52,199.17 C461.13,199.28 459.41,198.77 458.19,198.19 C456.98,197.61 455.98,196.88 455.23,195.71 C454.48,194.53 453.77,192.57 453.71,191.13 C453.64,189.69 453.72,187.89 454.85,187.08Z" fill="#7c7c7c"/>
<path d="M455.87,187.72 C456.85,187.02 459.11,187.14 460.75,187.04 C462.39,186.95 464.31,187.01 465.7,187.16 C467.1,187.31 468.3,187.41 469.13,187.95 C469.97,188.49 470.69,189.42 470.72,190.39 C470.75,191.37 470.11,192.73 469.33,193.8 C468.55,194.87 467.17,196.07 466.03,196.81 C464.9,197.54 463.74,198.13 462.53,198.23 C461.32,198.32 459.83,197.88 458.77,197.37 C457.72,196.87 456.85,196.24 456.2,195.22 C455.55,194.2 454.93,192.49 454.88,191.24 C454.82,190 454.89,188.43 455.87,187.72Z" fill="#b4b4b4"/>
<path d="M457.3,188.63 C458.07,188.08 459.85,188.17 461.14,188.09 C462.44,188.02 463.94,188.06 465.04,188.18 C466.14,188.3 467.09,188.38 467.75,188.81 C468.41,189.23 468.97,189.96 469,190.73 C469.02,191.5 468.52,192.57 467.9,193.41 C467.29,194.26 466.2,195.2 465.3,195.78 C464.41,196.36 463.5,196.83 462.55,196.9 C461.59,196.98 460.42,196.63 459.58,196.23 C458.75,195.84 458.07,195.34 457.56,194.53 C457.04,193.73 456.56,192.38 456.52,191.4 C456.47,190.42 456.52,189.18 457.3,188.63Z" fill="#cdcdcd"/>
<path d="M458.72,189.53 C459.29,189.13 460.59,189.19 461.54,189.14 C462.48,189.08 463.58,189.12 464.39,189.2 C465.19,189.29 465.88,189.35 466.36,189.66 C466.84,189.97 467.25,190.51 467.27,191.07 C467.29,191.63 466.93,192.41 466.48,193.03 C466.03,193.64 465.23,194.33 464.58,194.76 C463.92,195.18 463.26,195.52 462.56,195.58 C461.87,195.63 461,195.38 460.4,195.09 C459.79,194.8 459.29,194.43 458.91,193.84 C458.54,193.26 458.19,192.28 458.15,191.56 C458.12,190.84 458.16,189.93 458.72,189.53Z" fill="#dedede"/>
<ellipse cx="462.1" cy="191.9" rx="3.4" ry="2.24" fill="#8a8a8a"/>
<ellipse cx="462.1" cy="191.9" rx="2.5" ry="1.55" fill="#3c3c3c"/>
<line x1="476.7" y1="146.5" x2="476.7" y2="205" stroke="#8a8a8a" stroke-width="0.8" stroke-dasharray="0.9,0.9"/>
<line x1="448.3" y1="181" x2="506.6" y2="181" stroke="#8a8a8a" stroke-width="0.8" stroke-dasharray="0.9,0.9"/>
<text x="420" y="175.5" font-size="9.7" text-anchor="middle" fill="#2a2a2a" font-weight="bold" textLength="7.4" lengthAdjust="spacingAndGlyphs" transform="rotate(-90 420 175.5)">PE</text>
<text x="477.5" y="231.5" font-size="8.8" text-anchor="middle" fill="#2a2a2a" font-weight="bold" textLength="36.4" lengthAdjust="spacingAndGlyphs">Forward light</text>
<text x="477.1" y="242.5" font-size="8.8" text-anchor="middle" fill="#2a2a2a" font-weight="bold" textLength="36.3" lengthAdjust="spacingAndGlyphs">scatter (FSC)</text>
<line x1="447.7" y1="261" x2="447.7" y2="319.5" stroke="#222" stroke-width="1.1"/>
<line x1="447.2" y1="319" x2="506.6" y2="319" stroke="#222" stroke-width="1.1"/>
<line x1="445" y1="319" x2="447.7" y2="319" stroke="#222" stroke-width="0.9"/>
<text x="440.9" y="321.3" font-size="6.6" text-anchor="end" fill="#333">0</text>
<line x1="445" y1="307.94" x2="447.7" y2="307.94" stroke="#222" stroke-width="0.9"/>
<text x="440.9" y="310.24" font-size="6.6" text-anchor="end" fill="#333">200</text>
<line x1="445" y1="296.88" x2="447.7" y2="296.88" stroke="#222" stroke-width="0.9"/>
<text x="440.9" y="299.18" font-size="6.6" text-anchor="end" fill="#333">400</text>
<line x1="445" y1="285.82" x2="447.7" y2="285.82" stroke="#222" stroke-width="0.9"/>
<text x="440.9" y="288.12" font-size="6.6" text-anchor="end" fill="#333">600</text>
<line x1="445" y1="274.76" x2="447.7" y2="274.76" stroke="#222" stroke-width="0.9"/>
<text x="440.9" y="277.06" font-size="6.6" text-anchor="end" fill="#333">800</text>
<line x1="445" y1="263.7" x2="447.7" y2="263.7" stroke="#222" stroke-width="0.9"/>
<text x="440.9" y="266" font-size="6.6" text-anchor="end" fill="#333">1000</text>
<line x1="447.7" y1="319" x2="447.7" y2="320.8" stroke="#222" stroke-width="0.9"/>
<text x="451.1" y="327.7" font-size="6.8" text-anchor="end" fill="#333" transform="rotate(-45 451.1 327.7)">0</text>
<line x1="458.76" y1="319" x2="458.76" y2="320.8" stroke="#222" stroke-width="0.9"/>
<text x="462.16" y="327.7" font-size="6.8" text-anchor="end" fill="#333" transform="rotate(-45 462.16 327.7)">200</text>
<line x1="469.82" y1="319" x2="469.82" y2="320.8" stroke="#222" stroke-width="0.9"/>
<text x="473.22" y="327.7" font-size="6.8" text-anchor="end" fill="#333" transform="rotate(-45 473.22 327.7)">400</text>
<line x1="480.88" y1="319" x2="480.88" y2="320.8" stroke="#222" stroke-width="0.9"/>
<text x="484.28" y="327.7" font-size="6.8" text-anchor="end" fill="#333" transform="rotate(-45 484.28 327.7)">600</text>
<line x1="491.94" y1="319" x2="491.94" y2="320.8" stroke="#222" stroke-width="0.9"/>
<text x="495.34" y="327.7" font-size="6.8" text-anchor="end" fill="#333" transform="rotate(-45 495.34 327.7)">800</text>
<line x1="503" y1="319" x2="503" y2="320.8" stroke="#222" stroke-width="0.9"/>
<text x="506.4" y="327.7" font-size="6.8" text-anchor="end" fill="#333" transform="rotate(-45 506.4 327.7)">1000</text>
<path d="M452.1,297.8 C453.58,296.57 457.02,296.77 459.5,296.6 C461.98,296.43 464.88,296.53 467,296.8 C469.12,297.07 470.93,297.25 472.2,298.2 C473.47,299.15 474.55,300.78 474.6,302.5 C474.65,304.22 473.68,306.62 472.5,308.5 C471.32,310.38 469.22,312.5 467.5,313.8 C465.78,315.1 464.03,316.13 462.2,316.3 C460.37,316.47 458.1,315.68 456.5,314.8 C454.9,313.92 453.58,312.8 452.6,311 C451.62,309.2 450.68,306.2 450.6,304 C450.52,301.8 450.62,299.03 452.1,297.8Z" fill="#303030"/>
<path d="M453.32,298.7 C454.63,297.61 457.65,297.79 459.84,297.64 C462.02,297.5 464.57,297.59 466.44,297.82 C468.3,298.05 469.9,298.22 471.01,299.05 C472.13,299.89 473.08,301.33 473.12,302.84 C473.17,304.35 472.32,306.46 471.28,308.12 C470.23,309.77 468.39,311.64 466.88,312.78 C465.37,313.92 463.83,314.83 462.21,314.98 C460.6,315.13 458.6,314.44 457.2,313.66 C455.79,312.88 454.63,311.9 453.76,310.32 C452.9,308.73 452.08,306.09 452,304.16 C451.93,302.22 452.02,299.79 453.32,298.7Z" fill="#4a4a4a"/>
<path d="M454.55,299.6 C455.68,298.66 458.28,298.81 460.17,298.69 C462.06,298.56 464.26,298.64 465.87,298.84 C467.48,299.04 468.86,299.18 469.82,299.9 C470.79,300.63 471.61,301.87 471.65,303.17 C471.69,304.48 470.95,306.3 470.05,307.73 C469.15,309.16 467.56,310.77 466.25,311.76 C464.95,312.75 463.62,313.53 462.22,313.66 C460.83,313.79 459.11,313.19 457.89,312.52 C456.68,311.85 455.68,311 454.93,309.63 C454.18,308.26 453.47,305.98 453.41,304.31 C453.34,302.64 453.42,300.54 454.55,299.6Z" fill="#7c7c7c"/>
<path d="M455.57,300.35 C456.55,299.54 458.81,299.67 460.45,299.56 C462.09,299.45 464,299.51 465.4,299.69 C466.8,299.87 468,299.99 468.83,300.61 C469.67,301.24 470.38,302.32 470.42,303.45 C470.45,304.58 469.81,306.17 469.03,307.41 C468.25,308.65 466.87,310.05 465.73,310.91 C464.6,311.77 463.44,312.45 462.23,312.56 C461.02,312.67 459.53,312.15 458.47,311.57 C457.42,310.99 456.55,310.25 455.9,309.06 C455.25,307.87 454.63,305.89 454.58,304.44 C454.52,302.99 454.59,301.16 455.57,300.35Z" fill="#b4b4b4"/>
<path d="M457,301.4 C457.77,300.76 459.55,300.86 460.84,300.78 C462.14,300.69 463.64,300.74 464.74,300.88 C465.84,301.02 466.79,301.11 467.45,301.61 C468.11,302.1 468.67,302.95 468.7,303.84 C468.72,304.74 468.22,305.98 467.6,306.96 C466.99,307.94 465.9,309.04 465,309.72 C464.11,310.4 463.2,310.93 462.25,311.02 C461.29,311.11 460.12,310.7 459.28,310.24 C458.45,309.78 457.77,309.2 457.26,308.26 C456.74,307.33 456.26,305.77 456.22,304.62 C456.17,303.48 456.22,302.04 457,301.4Z" fill="#cdcdcd"/>
<path d="M458.42,302.45 C458.99,301.98 460.29,302.06 461.24,301.99 C462.18,301.93 463.28,301.97 464.09,302.07 C464.89,302.17 465.58,302.24 466.06,302.6 C466.54,302.96 466.95,303.58 466.97,304.24 C466.99,304.89 466.63,305.8 466.18,306.52 C465.73,307.23 464.93,308.04 464.28,308.53 C463.62,309.02 462.96,309.42 462.26,309.48 C461.57,309.54 460.7,309.25 460.1,308.91 C459.49,308.57 458.99,308.15 458.61,307.47 C458.24,306.78 457.89,305.64 457.85,304.81 C457.82,303.97 457.86,302.92 458.42,302.45Z" fill="#dedede"/>
<ellipse cx="461.8" cy="305.2" rx="3.4" ry="2.6" fill="#8a8a8a"/>
<ellipse cx="461.8" cy="305.2" rx="2.5" ry="1.8" fill="#3c3c3c"/>
<line x1="477" y1="261" x2="477" y2="319" stroke="#8a8a8a" stroke-width="0.8" stroke-dasharray="0.9,0.9"/>
<line x1="448.2" y1="295.7" x2="506.6" y2="295.7" stroke="#8a8a8a" stroke-width="0.8" stroke-dasharray="0.9,0.9"/>
<text x="420" y="290.5" font-size="9.7" text-anchor="middle" fill="#2a2a2a" font-weight="bold" textLength="7.4" lengthAdjust="spacingAndGlyphs" transform="rotate(-90 420 290.5)">PE</text>
<text x="477.5" y="345" font-size="8.8" text-anchor="middle" fill="#2a2a2a" font-weight="bold" textLength="36.4" lengthAdjust="spacingAndGlyphs">Forward light</text>
<text x="477.1" y="356" font-size="8.8" text-anchor="middle" fill="#2a2a2a" font-weight="bold" textLength="36.3" lengthAdjust="spacingAndGlyphs">scatter (FSC)</text>
<text x="6.7" y="371.7" font-size="11.8" fill="#111" font-weight="bold">C</text>
<rect x="56.2" y="398" width="6" height="28.8" fill="#185894" />
<rect x="66" y="426.8" width="6" height="20.25" fill="#185894" />
<rect x="75.8" y="421.4" width="6" height="5.4" fill="#185894" />
<rect x="85.6" y="426.8" width="6" height="11.25" fill="#185894" />
<rect x="95.4" y="382.25" width="6" height="44.55" fill="#185894" />
<rect x="105.2" y="385.18" width="6" height="41.62" fill="#185894" />
<rect x="115" y="392.15" width="6" height="34.65" fill="#185894" />
<line x1="42.7" y1="378.5" x2="42.7" y2="472.4" stroke="#333" stroke-width="1.3"/>
<line x1="42.1" y1="471.8" x2="124" y2="471.8" stroke="#333" stroke-width="1.2"/>
<line x1="42.7" y1="426.8" x2="124" y2="426.8" stroke="#222" stroke-width="1.0"/>
<line x1="39.7" y1="471.8" x2="42.7" y2="471.8" stroke="#333" stroke-width="0.9"/>
<text x="36.3" y="474.1" font-size="6.4" text-anchor="end" fill="#333">0.0</text>
<line x1="39.7" y1="449.3" x2="42.7" y2="449.3" stroke="#333" stroke-width="0.9"/>
<text x="36.3" y="451.6" font-size="6.4" text-anchor="end" fill="#333">0.5</text>
<line x1="39.7" y1="426.8" x2="42.7" y2="426.8" stroke="#333" stroke-width="0.9"/>
<text x="36.3" y="429.1" font-size="6.4" text-anchor="end" fill="#333">1.0</text>
<line x1="39.7" y1="404.3" x2="42.7" y2="404.3" stroke="#333" stroke-width="0.9"/>
<text x="36.3" y="406.6" font-size="6.4" text-anchor="end" fill="#333">1.5</text>
<line x1="39.7" y1="381.8" x2="42.7" y2="381.8" stroke="#333" stroke-width="0.9"/>
<text x="36.3" y="384.1" font-size="6.4" text-anchor="end" fill="#333">2.0</text>
<line x1="49.4" y1="471.8" x2="49.4" y2="474.8" stroke="#333" stroke-width="0.9"/>
<text x="51.7" y="479.1" font-size="6.5" text-anchor="end" transform="rotate(-90 51.7 479.1)">No Pep.</text>
<line x1="59.2" y1="471.8" x2="59.2" y2="474.8" stroke="#333" stroke-width="0.9"/>
<text x="61.5" y="479.1" font-size="6.5" text-anchor="end" transform="rotate(-90 61.5 479.1)">WT-1</text>
<line x1="69" y1="471.8" x2="69" y2="474.8" stroke="#333" stroke-width="0.9"/>
<text x="71.3" y="479.1" font-size="6.5" text-anchor="end" transform="rotate(-90 71.3 479.1)">V1P</text>
<line x1="78.8" y1="471.8" x2="78.8" y2="474.8" stroke="#333" stroke-width="0.9"/>
<text x="81.1" y="479.1" font-size="6.5" text-anchor="end" transform="rotate(-90 81.1 479.1)">V1T</text>
<line x1="88.6" y1="471.8" x2="88.6" y2="474.8" stroke="#333" stroke-width="0.9"/>
<text x="90.9" y="479.1" font-size="6.5" text-anchor="end" transform="rotate(-90 90.9 479.1)">V1E</text>
<line x1="98.4" y1="471.8" x2="98.4" y2="474.8" stroke="#333" stroke-width="0.9"/>
<text x="100.7" y="479.1" font-size="6.5" text-anchor="end" transform="rotate(-90 100.7 479.1)">V1R</text>
<line x1="108.2" y1="471.8" x2="108.2" y2="474.8" stroke="#333" stroke-width="0.9"/>
<text x="110.5" y="479.1" font-size="6.5" text-anchor="end" transform="rotate(-90 110.5 479.1)">V1I</text>
<line x1="118" y1="471.8" x2="118" y2="474.8" stroke="#333" stroke-width="0.9"/>
<text x="120.3" y="479.1" font-size="6.5" text-anchor="end" transform="rotate(-90 120.3 479.1)">V1A</text>
<text x="21.8" y="425.45" font-size="9.6" text-anchor="middle" fill="#2a2a2a" textLength="32.8" lengthAdjust="spacingAndGlyphs" stroke="#2a2a2a" stroke-width="0.25" transform="rotate(-90 21.8 425.45)">Fold change</text>
<rect x="196.23" y="398.88" width="6" height="29.31" fill="#185894" />
<rect x="205.06" y="387.61" width="6" height="40.59" fill="#185894" />
<rect x="213.89" y="404.75" width="6" height="23.45" fill="#185894" />
<rect x="222.72" y="421.89" width="6" height="6.31" fill="#185894" />
<rect x="231.55" y="417.83" width="6" height="10.37" fill="#185894" />
<rect x="240.38" y="415.12" width="6" height="13.08" fill="#185894" />
<rect x="249.21" y="415.12" width="6" height="13.08" fill="#185894" />
<rect x="258.04" y="413.77" width="6" height="14.43" fill="#185894" />
<line x1="185.3" y1="380.4" x2="185.3" y2="473.9" stroke="#333" stroke-width="1.3"/>
<line x1="184.7" y1="473.3" x2="266" y2="473.3" stroke="#333" stroke-width="1.2"/>
<line x1="185.3" y1="428.2" x2="266" y2="428.2" stroke="#222" stroke-width="1.0"/>
<line x1="182.3" y1="473.3" x2="185.3" y2="473.3" stroke="#333" stroke-width="0.9"/>
<text x="178.9" y="475.6" font-size="6.4" text-anchor="end" fill="#333">0.0</text>
<line x1="182.3" y1="450.75" x2="185.3" y2="450.75" stroke="#333" stroke-width="0.9"/>
<text x="178.9" y="453.05" font-size="6.4" text-anchor="end" fill="#333">0.5</text>
<line x1="182.3" y1="428.2" x2="185.3" y2="428.2" stroke="#333" stroke-width="0.9"/>
<text x="178.9" y="430.5" font-size="6.4" text-anchor="end" fill="#333">1.0</text>
<line x1="182.3" y1="405.65" x2="185.3" y2="405.65" stroke="#333" stroke-width="0.9"/>
<text x="178.9" y="407.95" font-size="6.4" text-anchor="end" fill="#333">1.5</text>
<line x1="182.3" y1="383.1" x2="185.3" y2="383.1" stroke="#333" stroke-width="0.9"/>
<text x="178.9" y="385.4" font-size="6.4" text-anchor="end" fill="#333">2.0</text>
<line x1="190.4" y1="473.3" x2="190.4" y2="476.3" stroke="#333" stroke-width="0.9"/>
<text x="192.7" y="480.6" font-size="6.5" text-anchor="end" transform="rotate(-90 192.7 480.6)">No Pep.</text>
<line x1="199.23" y1="473.3" x2="199.23" y2="476.3" stroke="#333" stroke-width="0.9"/>
<text x="201.53" y="480.6" font-size="6.5" text-anchor="end" transform="rotate(-90 201.53 480.6)">WT-1</text>
<line x1="208.06" y1="473.3" x2="208.06" y2="476.3" stroke="#333" stroke-width="0.9"/>
<text x="210.36" y="480.6" font-size="6.5" text-anchor="end" transform="rotate(-90 210.36 480.6)">P4D</text>
<line x1="216.89" y1="473.3" x2="216.89" y2="476.3" stroke="#333" stroke-width="0.9"/>
<text x="219.19" y="480.6" font-size="6.5" text-anchor="end" transform="rotate(-90 219.19 480.6)">P4S</text>
<line x1="225.72" y1="473.3" x2="225.72" y2="476.3" stroke="#333" stroke-width="0.9"/>
<text x="228.02" y="480.6" font-size="6.5" text-anchor="end" transform="rotate(-90 228.02 480.6)">P4L</text>
<line x1="234.55" y1="473.3" x2="234.55" y2="476.3" stroke="#333" stroke-width="0.9"/>
<text x="236.85" y="480.6" font-size="6.5" text-anchor="end" transform="rotate(-90 236.85 480.6)">P4R</text>
<line x1="243.38" y1="473.3" x2="243.38" y2="476.3" stroke="#333" stroke-width="0.9"/>
<text x="245.68" y="480.6" font-size="6.5" text-anchor="end" transform="rotate(-90 245.68 480.6)">P4Q</text>
<line x1="252.21" y1="473.3" x2="252.21" y2="476.3" stroke="#333" stroke-width="0.9"/>
<text x="254.51" y="480.6" font-size="6.5" text-anchor="end" transform="rotate(-90 254.51 480.6)">P4T</text>
<line x1="261.04" y1="473.3" x2="261.04" y2="476.3" stroke="#333" stroke-width="0.9"/>
<text x="263.34" y="480.6" font-size="6.5" text-anchor="end" transform="rotate(-90 263.34 480.6)">P4A</text>
<text x="164.4" y="427.15" font-size="9.6" text-anchor="middle" fill="#2a2a2a" textLength="32.8" lengthAdjust="spacingAndGlyphs" stroke="#2a2a2a" stroke-width="0.25" transform="rotate(-90 164.4 427.15)">Fold change</text>
<rect x="52.77" y="549.52" width="4.4" height="29.58" fill="#185894" />
<rect x="59.94" y="562.26" width="4.4" height="16.84" fill="#185894" />
<rect x="67.11" y="569.09" width="4.4" height="10.01" fill="#185894" />
<rect x="74.28" y="576.37" width="4.4" height="2.73" fill="#185894" />
<rect x="81.45" y="578.64" width="4.4" height="0.46" fill="#185894" />
<rect x="88.62" y="570.46" width="4.4" height="8.64" fill="#185894" />
<rect x="95.79" y="571.37" width="4.4" height="7.74" fill="#185894" />
<rect x="102.96" y="570.91" width="4.4" height="8.19" fill="#185894" />
<rect x="110.13" y="569.09" width="4.4" height="10.01" fill="#185894" />
<rect x="124.47" y="579.1" width="4.4" height="15.47" fill="#185894" />
<rect x="131.64" y="576.37" width="4.4" height="2.73" fill="#185894" />
<rect x="138.81" y="553.16" width="4.4" height="25.94" fill="#185894" />
<rect x="145.98" y="556.35" width="4.4" height="22.75" fill="#185894" />
<line x1="42.7" y1="530.9" x2="42.7" y2="625.2" stroke="#333" stroke-width="1.3"/>
<line x1="42.1" y1="624.6" x2="151.5" y2="624.6" stroke="#333" stroke-width="1.2"/>
<line x1="42.7" y1="579.1" x2="151.5" y2="579.1" stroke="#222" stroke-width="1.0"/>
<line x1="39.7" y1="624.6" x2="42.7" y2="624.6" stroke="#333" stroke-width="0.9"/>
<text x="36.3" y="626.9" font-size="6.4" text-anchor="end" fill="#333">0.0</text>
<line x1="39.7" y1="601.85" x2="42.7" y2="601.85" stroke="#333" stroke-width="0.9"/>
<text x="36.3" y="604.15" font-size="6.4" text-anchor="end" fill="#333">0.5</text>
<line x1="39.7" y1="579.1" x2="42.7" y2="579.1" stroke="#333" stroke-width="0.9"/>
<text x="36.3" y="581.4" font-size="6.4" text-anchor="end" fill="#333">1.0</text>
<line x1="39.7" y1="556.35" x2="42.7" y2="556.35" stroke="#333" stroke-width="0.9"/>
<text x="36.3" y="558.65" font-size="6.4" text-anchor="end" fill="#333">1.5</text>
<line x1="39.7" y1="533.6" x2="42.7" y2="533.6" stroke="#333" stroke-width="0.9"/>
<text x="36.3" y="535.9" font-size="6.4" text-anchor="end" fill="#333">2.0</text>
<line x1="47.8" y1="624.6" x2="47.8" y2="627.6" stroke="#333" stroke-width="0.9"/>
<text x="50.1" y="631.9" font-size="6.5" text-anchor="end" transform="rotate(-90 50.1 631.9)">No Pep.</text>
<line x1="54.97" y1="624.6" x2="54.97" y2="627.6" stroke="#333" stroke-width="0.9"/>
<text x="57.27" y="631.9" font-size="6.5" text-anchor="end" transform="rotate(-90 57.27 631.9)">WT-1</text>
<line x1="62.14" y1="624.6" x2="62.14" y2="627.6" stroke="#333" stroke-width="0.9"/>
<text x="64.44" y="631.9" font-size="6.5" text-anchor="end" transform="rotate(-90 64.44 631.9)">R5K</text>
<line x1="69.31" y1="624.6" x2="69.31" y2="627.6" stroke="#333" stroke-width="0.9"/>
<text x="71.61" y="631.9" font-size="6.5" text-anchor="end" transform="rotate(-90 71.61 631.9)">R5E</text>
<line x1="76.48" y1="624.6" x2="76.48" y2="627.6" stroke="#333" stroke-width="0.9"/>
<text x="78.78" y="631.9" font-size="6.5" text-anchor="end" transform="rotate(-90 78.78 631.9)">R5D</text>
<line x1="83.65" y1="624.6" x2="83.65" y2="627.6" stroke="#333" stroke-width="0.9"/>
<text x="85.95" y="631.9" font-size="6.5" text-anchor="end" transform="rotate(-90 85.95 631.9)">R5P</text>
<line x1="90.82" y1="624.6" x2="90.82" y2="627.6" stroke="#333" stroke-width="0.9"/>
<text x="93.12" y="631.9" font-size="6.5" text-anchor="end" transform="rotate(-90 93.12 631.9)">R5S</text>
<line x1="97.99" y1="624.6" x2="97.99" y2="627.6" stroke="#333" stroke-width="0.9"/>
<text x="100.29" y="631.9" font-size="6.5" text-anchor="end" transform="rotate(-90 100.29 631.9)">R5Y</text>
<line x1="105.16" y1="624.6" x2="105.16" y2="627.6" stroke="#333" stroke-width="0.9"/>
<text x="107.46" y="631.9" font-size="6.5" text-anchor="end" transform="rotate(-90 107.46 631.9)">R5T</text>
<line x1="112.33" y1="624.6" x2="112.33" y2="627.6" stroke="#333" stroke-width="0.9"/>
<text x="114.63" y="631.9" font-size="6.5" text-anchor="end" transform="rotate(-90 114.63 631.9)">R5L</text>
<line x1="119.5" y1="624.6" x2="119.5" y2="627.6" stroke="#333" stroke-width="0.9"/>
<text x="121.8" y="631.9" font-size="6.5" text-anchor="end" transform="rotate(-90 121.8 631.9)">R5W</text>
<line x1="126.67" y1="624.6" x2="126.67" y2="627.6" stroke="#333" stroke-width="0.9"/>
<text x="128.97" y="631.9" font-size="6.5" text-anchor="end" transform="rotate(-90 128.97 631.9)">R5C</text>
<line x1="133.84" y1="624.6" x2="133.84" y2="627.6" stroke="#333" stroke-width="0.9"/>
<text x="136.14" y="631.9" font-size="6.5" text-anchor="end" transform="rotate(-90 136.14 631.9)">R5F</text>
<line x1="141.01" y1="624.6" x2="141.01" y2="627.6" stroke="#333" stroke-width="0.9"/>
<text x="143.31" y="631.9" font-size="6.5" text-anchor="end" transform="rotate(-90 143.31 631.9)">R5H</text>
<line x1="148.18" y1="624.6" x2="148.18" y2="627.6" stroke="#333" stroke-width="0.9"/>
<text x="150.48" y="631.9" font-size="6.5" text-anchor="end" transform="rotate(-90 150.48 631.9)">R5A</text>
<text x="21.8" y="578.05" font-size="9.6" text-anchor="middle" fill="#2a2a2a" textLength="32.8" lengthAdjust="spacingAndGlyphs" stroke="#2a2a2a" stroke-width="0.25" transform="rotate(-90 21.8 578.05)">Fold change</text>
<rect x="198.08" y="549.98" width="6" height="29.12" fill="#185894" />
<rect x="207.86" y="545.43" width="6" height="33.67" fill="#185894" />
<rect x="217.64" y="542.25" width="6" height="36.86" fill="#185894" />
<rect x="227.42" y="555.44" width="6" height="23.66" fill="#185894" />
<rect x="237.2" y="571.37" width="6" height="7.74" fill="#185894" />
<rect x="246.98" y="551.8" width="6" height="27.3" fill="#185894" />
<rect x="256.76" y="554.53" width="6" height="24.57" fill="#185894" />
<line x1="185.4" y1="531" x2="185.4" y2="625.2" stroke="#333" stroke-width="1.3"/>
<line x1="184.8" y1="624.6" x2="266" y2="624.6" stroke="#333" stroke-width="1.2"/>
<line x1="185.4" y1="579.1" x2="266" y2="579.1" stroke="#222" stroke-width="1.0"/>
<line x1="182.4" y1="624.6" x2="185.4" y2="624.6" stroke="#333" stroke-width="0.9"/>
<text x="179" y="626.9" font-size="6.4" text-anchor="end" fill="#333">0.0</text>
<line x1="182.4" y1="601.85" x2="185.4" y2="601.85" stroke="#333" stroke-width="0.9"/>
<text x="179" y="604.15" font-size="6.4" text-anchor="end" fill="#333">0.5</text>
<line x1="182.4" y1="579.1" x2="185.4" y2="579.1" stroke="#333" stroke-width="0.9"/>
<text x="179" y="581.4" font-size="6.4" text-anchor="end" fill="#333">1.0</text>
<line x1="182.4" y1="556.35" x2="185.4" y2="556.35" stroke="#333" stroke-width="0.9"/>
<text x="179" y="558.65" font-size="6.4" text-anchor="end" fill="#333">1.5</text>
<line x1="182.4" y1="533.6" x2="185.4" y2="533.6" stroke="#333" stroke-width="0.9"/>
<text x="179" y="535.9" font-size="6.4" text-anchor="end" fill="#333">2.0</text>
<line x1="191.3" y1="624.6" x2="191.3" y2="627.6" stroke="#333" stroke-width="0.9"/>
<text x="193.6" y="631.9" font-size="6.5" text-anchor="end" transform="rotate(-90 193.6 631.9)">No Pep.</text>
<line x1="201.08" y1="624.6" x2="201.08" y2="627.6" stroke="#333" stroke-width="0.9"/>
<text x="203.38" y="631.9" font-size="6.5" text-anchor="end" transform="rotate(-90 203.38 631.9)">WT-1</text>
<line x1="210.86" y1="624.6" x2="210.86" y2="627.6" stroke="#333" stroke-width="0.9"/>
<text x="213.16" y="631.9" font-size="6.5" text-anchor="end" transform="rotate(-90 213.16 631.9)">F8L</text>
<line x1="220.64" y1="624.6" x2="220.64" y2="627.6" stroke="#333" stroke-width="0.9"/>
<text x="222.94" y="631.9" font-size="6.5" text-anchor="end" transform="rotate(-90 222.94 631.9)">F8V</text>
<line x1="230.42" y1="624.6" x2="230.42" y2="627.6" stroke="#333" stroke-width="0.9"/>
<text x="232.72" y="631.9" font-size="6.5" text-anchor="end" transform="rotate(-90 232.72 631.9)">F8I</text>
<line x1="240.2" y1="624.6" x2="240.2" y2="627.6" stroke="#333" stroke-width="0.9"/>
<text x="242.5" y="631.9" font-size="6.5" text-anchor="end" transform="rotate(-90 242.5 631.9)">F8D</text>
<line x1="249.98" y1="624.6" x2="249.98" y2="627.6" stroke="#333" stroke-width="0.9"/>
<text x="252.28" y="631.9" font-size="6.5" text-anchor="end" transform="rotate(-90 252.28 631.9)">F8R</text>
<line x1="259.76" y1="624.6" x2="259.76" y2="627.6" stroke="#333" stroke-width="0.9"/>
<text x="262.06" y="631.9" font-size="6.5" text-anchor="end" transform="rotate(-90 262.06 631.9)">F8A</text>
<text x="164.5" y="578.1" font-size="9.6" text-anchor="middle" fill="#2a2a2a" textLength="32.8" lengthAdjust="spacingAndGlyphs" stroke="#2a2a2a" stroke-width="0.25" transform="rotate(-90 164.5 578.1)">Fold change</text>
<text x="281.6" y="371.6" font-size="11.8" fill="#111" font-weight="bold">D</text>
<line x1="297.8" y1="379" x2="297.8" y2="639.5" stroke="#555" stroke-width="1"/>
<line x1="297.3" y1="639.5" x2="400.5" y2="639.5" stroke="#555" stroke-width="1"/>
<line x1="418.6" y1="379" x2="418.6" y2="639.5" stroke="#555" stroke-width="1"/>
<line x1="418.1" y1="639.5" x2="510" y2="639.5" stroke="#555" stroke-width="1"/>
<text x="292" y="508.7" font-size="9.4" text-anchor="middle" fill="#2a2a2a" font-weight="bold" textLength="17" lengthAdjust="spacingAndGlyphs" transform="rotate(-90 292 508.7)">%Max</text>
<text x="414" y="508.8" font-size="9.4" text-anchor="middle" fill="#2a2a2a" font-weight="bold" textLength="17" lengthAdjust="spacingAndGlyphs" transform="rotate(-90 414 508.8)">%Max</text>
<rect x="327.6" y="381.6" width="69.5" height="66.4" fill="none" stroke="#555" stroke-width="0.7" />
<clipPath id="c5"><rect x="327.6" y="381.6" width="69.5" height="66.4"/></clipPath>
<g clip-path="url(#c5)">
<path d="M330.5,448 L330.5,447.8 L331,447.8 L331.5,447.74 L332,447.68 L332.5,447.61 L333,447.55 L333.5,447.49 L334,447.42 L334.5,447.32 L335,447.18 L335.5,447.04 L336,446.9 L336.5,446.76 L337,446.62 L337.5,446.48 L338,446.34 L338.5,446.2 L339,445.77 L339.5,445.34 L340,444.9 L340.5,444.47 L341,444.04 L341.5,443.61 L342,443.17 L342.5,442.39 L343,441.37 L343.5,440.36 L344,439.34 L344.5,438.33 L345,437.31 L345.5,435.93 L346,434 L346.5,432.06 L347,430.13 L347.5,428.2 L348,425.03 L348.5,421.87 L349,418.7 L349.5,415.39 L350,412.08 L350.5,408.76 L351,405.39 L351.5,401.99 L352,398.6 L352.5,396.75 L353,394.91 L353.5,394.77 L354,397.18 L354.5,399.6 L355,403.6 L355.5,407.6 L356,411.75 L356.5,416 L357,423.5 L357.5,428.52 L358,431.88 L358.5,435.24 L359,438.6 L359.5,440.6 L360,442.6 L360.5,444.6 L361,445.77 L361.5,446.38 L362,446.99 L362.5,447.6 L363,447.68 L363.5,447.76 L364,447.84 L364.5,447.92 L365,448 L365.5,448 L365.5,448Z" fill="#a2afb3"/>
<path d="M340.5,448 L340.5,447.9 L341,447.9 L341.5,447.83 L342,447.76 L342.5,447.69 L343,447.62 L343.5,447.55 L344,447.48 L344.5,447.41 L345,447.34 L345.5,447.27 L346,447.2 L346.5,446.4 L347,445.6 L347.5,444.79 L348,443.99 L348.5,443.19 L349,442.39 L349.5,441.58 L350,440.78 L350.5,439.64 L351,437.98 L351.5,436.33 L352,434.68 L352.5,433.02 L353,431.27 L353.5,429.1 L354,426.93 L354.5,424.77 L355,421.71 L355.5,418.05 L356,414.4 L356.5,411.52 L357,408.65 L357.5,406.56 L358,404.99 L358.5,403.42 L359,401.85 L359.5,400.46 L360,399.73 L360.5,399.01 L361,398.29 L361.5,397.72 L362,397.26 L362.5,396.79 L363,397.12 L363.5,397.65 L364,398.18 L364.5,398.85 L365,400.11 L365.5,401.38 L366,402.64 L366.5,403.9 L367,405.96 L367.5,408.01 L368,410.07 L368.5,412.41 L369,415.17 L369.5,417.93 L370,420.69 L370.5,423.32 L371,425.84 L371.5,428.37 L372,430.89 L372.5,433.05 L373,435.12 L373.5,437.18 L374,439.25 L374.5,441.15 L375,442.41 L375.5,443.68 L376,444.94 L376.5,446.2 L377,446.5 L377.5,446.79 L378,447.09 L378.5,447.39 L379,447.68 L379.5,447.82 L380,447.86 L380.5,447.89 L381,447.93 L381.5,447.96 L382,448 L382.5,448 L382.5,448Z" fill="#4cb25e"/>
<path d="M340.5,448 L340.5,447.9 L341,447.9 L341.5,447.83 L342,447.76 L342.5,447.69 L343,447.62 L343.5,447.55 L344,447.48 L344.5,447.41 L345,447.34 L345.5,447.27 L346,447.2 L346.5,446.4 L347,445.6 L347.5,444.79 L348,443.99 L348.5,443.19 L349,442.39 L349.5,441.58 L350,440.78 L350.5,439.64 L351,437.98 L351.5,436.33 L352,434.68 L352.5,433.02 L353,431.27 L353.5,429.1 L354,426.93 L354.5,424.77 L355,421.71 L355.5,418.05 L356,414.4 L356.5,416 L357,423.5 L357.5,428.52 L358,431.88 L358.5,435.24 L359,438.6 L359.5,440.6 L360,442.6 L360.5,444.6 L361,445.77 L361.5,446.38 L362,446.99 L362.5,447.6 L363,447.68 L363.5,447.76 L364,447.84 L364.5,447.92 L365,448 L365.5,448 L365.5,448Z" fill="#7f8d87"/>
<path d="M331,447.8 L334.2,447.4 L338.5,446.2 L342.2,443 L345.3,436.7 L347.5,428.2 L349,418.7 L350.6,408.1 L352,398.6 L353.3,393.8 L354.5,399.6 L355.7,409.2 L356.5,416 L357.2,426.5 L359,438.6 L360.7,445.4 L362.5,447.6 L365,448" fill="none" stroke="#1e2a24" stroke-width="0.85" stroke-linejoin="round"/>
<path d="M341,447.9 L346,447.2 L350.3,440.3 L352.9,431.7 L354.7,423.9 L356,414.4 L357.2,407.5 L359.4,400.6 L361.2,398 L362.6,396.7 L364.4,398.6 L366.5,403.9 L368.3,411.3 L370.2,421.8 L372.1,431.4 L374.4,440.9 L376.5,446.2 L379.2,447.8 L382,448" fill="none" stroke="#1f3a26" stroke-width="0.85" stroke-linejoin="round"/>
</g>
<line x1="327.6" y1="381.6" x2="327.6" y2="448.5" stroke="#444" stroke-width="0.9"/>
<line x1="327.1" y1="448" x2="397.1" y2="448" stroke="#333" stroke-width="1.1"/>
<line x1="325.8" y1="385.7" x2="327.6" y2="385.7" stroke="#444" stroke-width="0.8"/>
<text x="324.4" y="388" font-size="6.4" text-anchor="end" fill="#333">100</text>
<line x1="325.8" y1="416.85" x2="327.6" y2="416.85" stroke="#444" stroke-width="0.8"/>
<text x="324.4" y="419.15" font-size="6.4" text-anchor="end" fill="#333">50</text>
<line x1="325.8" y1="448" x2="327.6" y2="448" stroke="#444" stroke-width="0.8"/>
<text x="324.4" y="450.3" font-size="6.4" text-anchor="end" fill="#333">0</text>
<line x1="326.6" y1="441.77" x2="327.6" y2="441.77" stroke="#888" stroke-width="0.5"/>
<line x1="326.6" y1="435.54" x2="327.6" y2="435.54" stroke="#888" stroke-width="0.5"/>
<line x1="326.6" y1="429.31" x2="327.6" y2="429.31" stroke="#888" stroke-width="0.5"/>
<line x1="326.6" y1="423.08" x2="327.6" y2="423.08" stroke="#888" stroke-width="0.5"/>
<line x1="326.6" y1="410.62" x2="327.6" y2="410.62" stroke="#888" stroke-width="0.5"/>
<line x1="326.6" y1="404.39" x2="327.6" y2="404.39" stroke="#888" stroke-width="0.5"/>
<line x1="326.6" y1="398.16" x2="327.6" y2="398.16" stroke="#888" stroke-width="0.5"/>
<line x1="326.6" y1="391.93" x2="327.6" y2="391.93" stroke="#888" stroke-width="0.5"/>
<line x1="328.8" y1="448" x2="328.8" y2="449.6" stroke="#444" stroke-width="0.7"/>
<text x="324.17" y="458.3" font-size="6.4">10</text>
<text x="331.39" y="455.6" font-size="3.84">2</text>
<line x1="345.4" y1="448" x2="345.4" y2="449.6" stroke="#444" stroke-width="0.7"/>
<text x="340.77" y="458.3" font-size="6.4">10</text>
<text x="347.99" y="455.6" font-size="3.84">3</text>
<line x1="362" y1="448" x2="362" y2="449.6" stroke="#444" stroke-width="0.7"/>
<text x="357.37" y="458.3" font-size="6.4">10</text>
<text x="364.59" y="455.6" font-size="3.84">4</text>
<line x1="378.5" y1="448" x2="378.5" y2="449.6" stroke="#444" stroke-width="0.7"/>
<text x="373.87" y="458.3" font-size="6.4">10</text>
<text x="381.09" y="455.6" font-size="3.84">5</text>
<line x1="395.5" y1="448" x2="395.5" y2="449.6" stroke="#444" stroke-width="0.7"/>
<text x="390.87" y="458.3" font-size="6.4">10</text>
<text x="398.09" y="455.6" font-size="3.84">6</text>
<text x="310.5" y="419.4" font-size="6.6" text-anchor="middle" fill="#333" textLength="31.2" lengthAdjust="spacingAndGlyphs" transform="rotate(-90 310.5 419.4)">RPMI8226</text>
<rect x="327.2" y="469.4" width="68.9" height="66.1" fill="none" stroke="#555" stroke-width="0.7" />
<clipPath id="c6"><rect x="327.2" y="469.4" width="68.9" height="66.1"/></clipPath>
<g clip-path="url(#c6)">
<path d="M327.2,535.5 L327.2,534.6 L327.7,534.52 L328.2,534.42 L328.7,534.32 L329.2,534.23 L329.7,534.13 L330.2,534.03 L330.7,533.93 L331.2,533.83 L331.7,533.73 L332.2,533.63 L332.7,533.54 L333.2,533.44 L333.7,533.34 L334.2,533.11 L334.7,532.8 L335.2,532.48 L335.7,532.17 L336.2,531.85 L336.7,531.53 L337.2,531.22 L337.7,530.9 L338.2,530.59 L338.7,530.14 L339.2,529.48 L339.7,528.82 L340.2,528.17 L340.7,527.51 L341.2,526.85 L341.7,526.19 L342.2,525.24 L342.7,523.84 L343.2,522.45 L343.7,521.05 L344.2,519.66 L344.7,518.26 L345.2,516.2 L345.7,513.7 L346.2,511.2 L346.7,508.7 L347.2,506.2 L347.7,502.79 L348.2,499.38 L348.7,495.96 L349.2,492.37 L349.7,488.66 L350.2,484.94 L350.7,482.67 L351.2,480.75 L351.7,480.37 L352.2,482.31 L352.7,484.24 L353.2,487.29 L353.7,492.02 L354.2,496.86 L354.7,502.15 L355.2,507.44 L355.7,512.68 L356.2,517.91 L356.7,521.84 L357.2,524.91 L357.7,527.97 L358.2,529.89 L358.7,531.04 L359.2,532.19 L359.7,533.34 L360.2,533.98 L360.7,534.27 L361.2,534.56 L361.7,534.82 L362.2,534.92 L362.7,535.03 L363.2,535.13 L363.7,535.24 L364.2,535.3 L364.5,535.5Z" fill="#a6b0b5"/>
<path d="M337.5,535.5 L337.5,535 L338,535 L338.5,534.87 L339,534.73 L339.5,534.6 L340,534.46 L340.5,534.33 L341,534.19 L341.5,534.06 L342,533.92 L342.5,533.79 L343,533.65 L343.5,533.52 L344,533.38 L344.5,533.24 L345,533.08 L345.5,532.93 L346,532.77 L346.5,532.62 L347,532.46 L347.5,532.31 L348,532.15 L348.5,532 L349,531.84 L349.5,531.69 L350,531.53 L350.5,531.24 L351,530.91 L351.5,530.58 L352,530.26 L352.5,529.93 L353,529.6 L353.5,529.28 L354,528.95 L354.5,528.62 L355,528.3 L355.5,527.69 L356,526.68 L356.5,525.66 L357,524.65 L357.5,523.64 L358,522.62 L358.5,521.61 L359,520.12 L359.5,518.33 L360,516.54 L360.5,514.74 L361,512.95 L361.5,511.16 L362,508.85 L362.5,506.4 L363,503.96 L363.5,501.52 L364,499.08 L364.5,496.36 L365,493.46 L365.5,490.56 L366,487.66 L366.5,485.35 L367,483.43 L367.5,481.52 L368,479.6 L368.5,480.95 L369,482.31 L369.5,483.66 L370,486.25 L370.5,489.66 L371,493.07 L371.5,496.65 L372,500.88 L372.5,505.11 L373,509.32 L373.5,513.43 L374,517.54 L374.5,521.08 L375,523.79 L375.5,526.49 L376,529.2 L376.5,530.2 L377,531.2 L377.5,532.2 L378,533.2 L378.5,533.9 L379,534.15 L379.5,534.4 L380,534.65 L380.5,534.9 L381,535.05 L381.5,535.14 L382,535.23 L382.5,535.31 L383,535.4 L383.5,535.4 L383.5,535.5Z" fill="#72c07a"/>
<path d="M337.5,535.5 L337.5,535 L338,535 L338.5,534.87 L339,534.73 L339.5,534.6 L340,534.46 L340.5,534.33 L341,534.19 L341.5,534.06 L342,533.92 L342.5,533.79 L343,533.65 L343.5,533.52 L344,533.38 L344.5,533.24 L345,533.08 L345.5,532.93 L346,532.77 L346.5,532.62 L347,532.46 L347.5,532.31 L348,532.15 L348.5,532 L349,531.84 L349.5,531.69 L350,531.53 L350.5,531.24 L351,530.91 L351.5,530.58 L352,530.26 L352.5,529.93 L353,529.6 L353.5,529.28 L354,528.95 L354.5,528.62 L355,528.3 L355.5,527.69 L356,526.68 L356.5,525.66 L357,524.65 L357.5,526.75 L358,529.43 L358.5,530.58 L359,531.73 L359.5,532.88 L360,533.86 L360.5,534.15 L361,534.45 L361.5,534.74 L362,534.88 L362.5,534.99 L363,535.09 L363.5,535.2 L364,535.3 L364.5,535.3 L364.5,535.5Z" fill="#7d8e84"/>
<path d="M327.3,534.6 L333.9,533.3 L338.5,530.4 L342,525.8 L344.9,517.7 L347.2,506.2 L348.9,494.6 L350.3,484.2 L351.5,479.6 L353,485.4 L354.1,495.8 L355.3,508.5 L356.4,520 L357.9,529.2 L359.9,533.8 L361.6,534.8 L364,535.3" fill="none" stroke="#1e2a24" stroke-width="0.85" stroke-linejoin="round"/>
<path d="M338,535 L344.3,533.3 L350.1,531.5 L355.3,528.1 L358.7,521.2 L361.6,510.8 L364.2,498.1 L366.2,486.5 L368,479.6 L369.7,484.2 L371.4,495.8 L372.9,508.5 L374.3,520 L376,529.2 L378.3,533.8 L380.7,535 L383,535.4" fill="none" stroke="#23402a" stroke-width="0.85" stroke-linejoin="round"/>
</g>
<line x1="327.2" y1="469.4" x2="327.2" y2="536" stroke="#444" stroke-width="0.9"/>
<line x1="326.7" y1="535.5" x2="396.1" y2="535.5" stroke="#333" stroke-width="1.1"/>
<line x1="325.4" y1="473.7" x2="327.2" y2="473.7" stroke="#444" stroke-width="0.8"/>
<text x="324" y="476" font-size="6.4" text-anchor="end" fill="#333">100</text>
<line x1="325.4" y1="504.6" x2="327.2" y2="504.6" stroke="#444" stroke-width="0.8"/>
<text x="324" y="506.9" font-size="6.4" text-anchor="end" fill="#333">50</text>
<line x1="325.4" y1="535.5" x2="327.2" y2="535.5" stroke="#444" stroke-width="0.8"/>
<text x="324" y="537.8" font-size="6.4" text-anchor="end" fill="#333">0</text>
<line x1="326.2" y1="529.32" x2="327.2" y2="529.32" stroke="#888" stroke-width="0.5"/>
<line x1="326.2" y1="523.14" x2="327.2" y2="523.14" stroke="#888" stroke-width="0.5"/>
<line x1="326.2" y1="516.96" x2="327.2" y2="516.96" stroke="#888" stroke-width="0.5"/>
<line x1="326.2" y1="510.78" x2="327.2" y2="510.78" stroke="#888" stroke-width="0.5"/>
<line x1="326.2" y1="498.42" x2="327.2" y2="498.42" stroke="#888" stroke-width="0.5"/>
<line x1="326.2" y1="492.24" x2="327.2" y2="492.24" stroke="#888" stroke-width="0.5"/>
<line x1="326.2" y1="486.06" x2="327.2" y2="486.06" stroke="#888" stroke-width="0.5"/>
<line x1="326.2" y1="479.88" x2="327.2" y2="479.88" stroke="#888" stroke-width="0.5"/>
<line x1="328.4" y1="535.5" x2="328.4" y2="537.1" stroke="#444" stroke-width="0.7"/>
<text x="323.77" y="545.5" font-size="6.4">10</text>
<text x="330.99" y="542.8" font-size="3.84">2</text>
<line x1="345" y1="535.5" x2="345" y2="537.1" stroke="#444" stroke-width="0.7"/>
<text x="340.37" y="545.5" font-size="6.4">10</text>
<text x="347.59" y="542.8" font-size="3.84">3</text>
<line x1="361.6" y1="535.5" x2="361.6" y2="537.1" stroke="#444" stroke-width="0.7"/>
<text x="356.97" y="545.5" font-size="6.4">10</text>
<text x="364.19" y="542.8" font-size="3.84">4</text>
<line x1="378.1" y1="535.5" x2="378.1" y2="537.1" stroke="#444" stroke-width="0.7"/>
<text x="373.47" y="545.5" font-size="6.4">10</text>
<text x="380.69" y="542.8" font-size="3.84">5</text>
<line x1="395.1" y1="535.5" x2="395.1" y2="537.1" stroke="#444" stroke-width="0.7"/>
<text x="390.47" y="545.5" font-size="6.4">10</text>
<text x="397.69" y="542.8" font-size="3.84">6</text>
<text x="310" y="504.7" font-size="6.6" text-anchor="middle" fill="#333" textLength="15.7" lengthAdjust="spacingAndGlyphs" transform="rotate(-90 310 504.7)">U266</text>
<rect x="325.8" y="557.7" width="69.9" height="65.6" fill="none" stroke="#555" stroke-width="0.7" />
<clipPath id="c7"><rect x="325.8" y="557.7" width="69.9" height="65.6"/></clipPath>
<g clip-path="url(#c7)">
<path d="M325.8,623.3 L325.8,623.2 L326.3,623.18 L326.8,623.16 L327.3,623.13 L327.8,623.1 L328.3,623.07 L328.8,623.05 L329.3,623.02 L329.8,622.99 L330.3,622.97 L330.8,622.94 L331.3,622.91 L331.8,622.88 L332.3,622.86 L332.8,622.83 L333.3,622.8 L333.8,622.77 L334.3,622.75 L334.8,622.72 L335.3,622.69 L335.8,622.67 L336.3,622.64 L336.8,622.61 L337.3,622.54 L337.8,622.45 L338.3,622.35 L338.8,622.26 L339.3,622.16 L339.8,622.07 L340.3,621.97 L340.8,621.88 L341.3,621.78 L341.8,621.69 L342.3,621.59 L342.8,621.5 L343.3,621.4 L343.8,621.15 L344.3,620.9 L344.8,620.65 L345.3,620.4 L345.8,620.15 L346.3,619.9 L346.8,619.65 L347.3,619.4 L347.8,619.15 L348.3,618.9 L348.8,618.31 L349.3,617.71 L349.8,617.12 L350.3,616.52 L350.8,615.93 L351.3,615.33 L351.8,614.74 L352.3,613.76 L352.8,612.52 L353.3,611.28 L353.8,610.04 L354.3,608.8 L354.8,606.72 L355.3,604.09 L355.8,601.46 L356.3,598.83 L356.8,595.47 L357.3,591.94 L357.8,588.41 L358.3,585 L358.8,581.67 L359.3,578.33 L359.8,575.76 L360.3,573.69 L360.8,571.63 L361.3,570.33 L361.8,569.55 L362.3,568.77 L362.8,568.89 L363.3,570.36 L363.8,571.83 L364.3,573.3 L364.8,577.99 L365.3,582.73 L365.8,587.57 L366.3,591.81 L366.8,595.65 L367.3,599.5 L367.8,602.63 L368.3,605.75 L368.8,608.88 L369.3,611.08 L369.8,613.05 L370.3,615.03 L370.8,617 L371.3,618 L371.8,619 L372.3,620 L372.8,621 L373.3,622 L373.8,622.24 L374.3,622.48 L374.8,622.72 L375.3,622.96 L375.8,623.2 L376.3,623.2 L376.3,623.3Z" fill="#a0b0b4"/>
<path d="M349.5,623.3 L349.5,623.2 L350,623.2 L350.5,623.09 L351,622.98 L351.5,622.86 L352,622.75 L352.5,622.64 L353,622.52 L353.5,622.41 L354,622.3 L354.5,622.05 L355,621.8 L355.5,621.55 L356,621.3 L356.5,621.05 L357,620.8 L357.5,619.38 L358,617.96 L358.5,616.54 L359,615.12 L359.5,613.7 L360,612.28 L360.5,610.44 L361,608.48 L361.5,606.53 L362,604.58 L362.5,602.62 L363,600.67 L363.5,598.5 L364,596 L364.5,593.5 L365,591 L365.5,588.5 L366,585.71 L366.5,582.5 L367,579.29 L367.5,577.21 L368,575.88 L368.5,574.56 L369,573.33 L369.5,572.5 L370,571.67 L370.5,570.89 L371,570.12 L371.5,569.36 L372,569.63 L372.5,571.47 L373,573.3 L373.5,576.18 L374,579.07 L374.5,582.47 L375,586.63 L375.5,590.8 L376,594.97 L376.5,599.13 L377,603.3 L377.5,606.8 L378,609.3 L378.5,611.8 L379,614.3 L379.5,616.33 L380,617.67 L380.5,619 L381,620.33 L381.5,621.47 L382,621.83 L382.5,622.19 L383,622.55 L383.5,622.91 L384,623.2 L384.5,623.23 L385,623.25 L385.5,623.28 L386,623.3 L386.5,623.3 L386.5,623.3Z" fill="#3caf4c"/>
<path d="M349.5,623.3 L349.5,623.2 L350,623.2 L350.5,623.09 L351,622.98 L351.5,622.86 L352,622.75 L352.5,622.64 L353,622.52 L353.5,622.41 L354,622.3 L354.5,622.05 L355,621.8 L355.5,621.55 L356,621.3 L356.5,621.05 L357,620.8 L357.5,619.38 L358,617.96 L358.5,616.54 L359,615.12 L359.5,613.7 L360,612.28 L360.5,610.44 L361,608.48 L361.5,606.53 L362,604.58 L362.5,602.62 L363,600.67 L363.5,598.5 L364,596 L364.5,593.5 L365,591 L365.5,588.5 L366,589.5 L366.5,593.35 L367,597.19 L367.5,600.75 L368,603.88 L368.5,607 L369,609.89 L369.5,611.87 L370,613.84 L370.5,615.82 L371,617.4 L371.5,618.4 L372,619.4 L372.5,620.4 L373,621.4 L373.5,622.1 L374,622.34 L374.5,622.58 L375,622.82 L375.5,623.06 L376,623.2 L376.3,623.3Z" fill="#85918c"/>
<path d="M326,623.2 L337,622.6 L343.3,621.4 L348.3,618.9 L352,614.5 L354.5,608.3 L356.4,598.3 L358,587 L359.5,577 L361,570.8 L362.6,568.3 L364.3,573.3 L365.1,580.8 L366,589.5 L367.3,599.5 L368.9,609.5 L370.8,617 L373.3,622 L375.8,623.2" fill="none" stroke="#1e2a24" stroke-width="0.85" stroke-linejoin="round"/>
<path d="M350,623.2 L354,622.3 L357,620.8 L360.1,612 L363.3,599.5 L365.8,587 L367.2,578 L368.9,573.5 L370.1,571.5 L371.8,568.9 L373,573.3 L374.3,580.8 L375.8,593.3 L377.3,605.8 L379.3,615.8 L381.4,621.4 L383.9,623.2 L386,623.3" fill="none" stroke="#1f3a26" stroke-width="0.85" stroke-linejoin="round"/>
</g>
<line x1="325.8" y1="557.7" x2="325.8" y2="623.8" stroke="#444" stroke-width="0.9"/>
<line x1="325.3" y1="623.3" x2="395.7" y2="623.3" stroke="#333" stroke-width="1.1"/>
<line x1="324" y1="561.7" x2="325.8" y2="561.7" stroke="#444" stroke-width="0.8"/>
<text x="322.6" y="564" font-size="6.4" text-anchor="end" fill="#333">100</text>
<line x1="324" y1="592.5" x2="325.8" y2="592.5" stroke="#444" stroke-width="0.8"/>
<text x="322.6" y="594.8" font-size="6.4" text-anchor="end" fill="#333">50</text>
<line x1="324" y1="623.3" x2="325.8" y2="623.3" stroke="#444" stroke-width="0.8"/>
<text x="322.6" y="625.6" font-size="6.4" text-anchor="end" fill="#333">0</text>
<line x1="324.8" y1="617.14" x2="325.8" y2="617.14" stroke="#888" stroke-width="0.5"/>
<line x1="324.8" y1="610.98" x2="325.8" y2="610.98" stroke="#888" stroke-width="0.5"/>
<line x1="324.8" y1="604.82" x2="325.8" y2="604.82" stroke="#888" stroke-width="0.5"/>
<line x1="324.8" y1="598.66" x2="325.8" y2="598.66" stroke="#888" stroke-width="0.5"/>
<line x1="324.8" y1="586.34" x2="325.8" y2="586.34" stroke="#888" stroke-width="0.5"/>
<line x1="324.8" y1="580.18" x2="325.8" y2="580.18" stroke="#888" stroke-width="0.5"/>
<line x1="324.8" y1="574.02" x2="325.8" y2="574.02" stroke="#888" stroke-width="0.5"/>
<line x1="324.8" y1="567.86" x2="325.8" y2="567.86" stroke="#888" stroke-width="0.5"/>
<line x1="335.5" y1="623.3" x2="335.5" y2="624.9" stroke="#444" stroke-width="0.7"/>
<line x1="346.8" y1="623.3" x2="346.8" y2="624.9" stroke="#444" stroke-width="0.7"/>
<text x="342.17" y="633.3" font-size="6.4">10</text>
<text x="349.39" y="630.6" font-size="3.84">4</text>
<line x1="359" y1="623.3" x2="359" y2="624.9" stroke="#444" stroke-width="0.7"/>
<line x1="371.5" y1="623.3" x2="371.5" y2="624.9" stroke="#444" stroke-width="0.7"/>
<text x="366.87" y="633.3" font-size="6.4">10</text>
<text x="374.09" y="630.6" font-size="3.84">5</text>
<line x1="383.5" y1="623.3" x2="383.5" y2="624.9" stroke="#444" stroke-width="0.7"/>
<line x1="395.2" y1="623.3" x2="395.2" y2="624.9" stroke="#444" stroke-width="0.7"/>
<text x="390.57" y="633.3" font-size="6.4">10</text>
<text x="397.79" y="630.6" font-size="3.84">6</text>
<text x="310" y="595.3" font-size="6.6" text-anchor="middle" fill="#333" textLength="15.5" lengthAdjust="spacingAndGlyphs" transform="rotate(-90 310 595.3)">U937</text>
<text x="348.85" y="650.4" font-size="9.0" text-anchor="middle" fill="#2a2a2a" font-weight="bold" textLength="28.5" lengthAdjust="spacingAndGlyphs">3D12 - PE</text>
<rect x="304.8" y="659" width="6.2" height="6.3" fill="#a2afb3" />
<text x="314.4" y="664.8" font-size="6.8" fill="#333" textLength="44.3" lengthAdjust="spacingAndGlyphs">Isotype Control</text>
<rect x="366.3" y="659" width="6.4" height="6.3" fill="#3cb44b" />
<text x="376" y="664.8" font-size="6.8" fill="#333" textLength="16.3" lengthAdjust="spacingAndGlyphs">3D12</text>
<rect x="437.9" y="382.6" width="69.2" height="65.6" fill="none" stroke="#555" stroke-width="0.7" />
<clipPath id="c8"><rect x="437.9" y="382.6" width="69.2" height="65.6"/></clipPath>
<g clip-path="url(#c8)">
<path d="M437.9,448.2 L437.9,447.8 L438.4,447.65 L438.9,447.44 L439.4,447.11 L439.9,446.79 L440.4,446.47 L440.9,446.15 L441.4,445.83 L441.9,445.39 L442.4,444.88 L442.9,444.36 L443.4,443.84 L443.9,443.33 L444.4,442.81 L444.9,442.2 L445.4,441.22 L445.9,440.24 L446.4,439.26 L446.9,438.28 L447.4,437.29 L447.9,435.82 L448.4,434.01 L448.9,432.21 L449.4,430.4 L449.9,428.6 L450.4,425.68 L450.9,422.76 L451.4,419.84 L451.9,416.5 L452.4,411.5 L452.9,406.5 L453.4,403 L453.9,399.5 L454.4,397.53 L454.9,396.57 L455.4,395.7 L455.9,395.2 L456.4,396.03 L456.9,398.87 L457.4,402.79 L457.9,407.52 L458.4,412.63 L458.9,417.74 L459.4,422.86 L459.9,426.87 L460.4,430.16 L460.9,433.44 L461.4,435.74 L461.9,437.8 L462.4,439.86 L462.9,441.74 L463.4,442.95 L463.9,444.16 L464.4,445.37 L464.9,446.27 L465.4,446.68 L465.9,447.09 L466.4,447.5 L466.9,447.92 L467.4,448 L467.5,448.2Z" fill="#b0c0c5"/>
<path d="M444.5,448.2 L444.5,448 L445,448 L445.5,447.84 L446,447.68 L446.5,447.52 L447,447.35 L447.5,447.19 L448,447.03 L448.5,446.71 L449,446.34 L449.5,445.98 L450,445.61 L450.5,445.25 L451,444.88 L451.5,444.52 L452,443.95 L452.5,443.07 L453,442.19 L453.5,441.31 L454,440.44 L454.5,439.56 L455,438.68 L455.5,437.8 L456,435.39 L456.5,432.97 L457,430.56 L457.5,428.15 L458,425.01 L458.5,420.78 L459,416.55 L459.5,412.53 L460,408.56 L460.5,404.6 L461,401.14 L461.5,397.68 L462,395.56 L462.5,394.33 L463,393.1 L463.5,394.81 L464,396.52 L464.5,399.67 L465,403.78 L465.5,408.3 L466,412.92 L466.5,417.7 L467,422.7 L467.5,427.43 L468,431.07 L468.5,434.71 L469,437.83 L469.5,440.15 L470,442.47 L470.5,443.97 L471,444.92 L471.5,445.86 L472,446.81 L472.5,447.22 L473,447.5 L473.5,447.78 L474,448.01 L474.5,448.06 L475,448.1 L475.5,448.15 L476,448.2 L476.5,448.2 L476.5,448.2Z" fill="#175f9a"/>
<path d="M444.5,448.2 L444.5,448 L445,448 L445.5,447.84 L446,447.68 L446.5,447.52 L447,447.35 L447.5,447.19 L448,447.03 L448.5,446.71 L449,446.34 L449.5,445.98 L450,445.61 L450.5,445.25 L451,444.88 L451.5,444.52 L452,443.95 L452.5,443.07 L453,442.19 L453.5,441.31 L454,440.44 L454.5,439.56 L455,438.68 L455.5,437.8 L456,435.39 L456.5,432.97 L457,430.56 L457.5,428.15 L458,425.01 L458.5,420.78 L459,418.77 L459.5,423.88 L460,427.53 L460.5,430.81 L461,434.1 L461.5,436.16 L462,438.21 L462.5,440.27 L463,441.98 L463.5,443.19 L464,444.41 L464.5,445.62 L465,446.35 L465.5,446.76 L466,447.17 L466.5,447.59 L467,448 L467.5,448 L467.5,448.2Z" fill="#4e7480"/>
<path d="M438,447.8 L438.8,447.5 L441.6,445.7 L444.8,442.4 L447.6,436.9 L449.9,428.6 L451.8,417.5 L452.9,406.5 L454.1,398.1 L455.3,395.8 L456.2,394.9 L457.1,400 L457.8,406.5 L458.7,415.7 L459.6,424.9 L461,434.1 L462.8,441.5 L464.7,446.1 L467,448" fill="none" stroke="#1e2a24" stroke-width="0.85" stroke-linejoin="round"/>
<path d="M445,448 L448.1,447 L451.8,444.3 L455.5,437.8 L457.8,426.7 L459.1,415.7 L460.5,404.6 L461.7,396.3 L463,393.1 L464.2,397.2 L465.1,404.6 L466.3,415.7 L467.4,426.7 L468.8,436.9 L470.2,443.4 L472.1,447 L473.9,448 L476,448.2" fill="none" stroke="#10263a" stroke-width="0.85" stroke-linejoin="round"/>
</g>
<line x1="437.9" y1="382.6" x2="437.9" y2="448.7" stroke="#444" stroke-width="0.9"/>
<line x1="437.4" y1="448.2" x2="507.1" y2="448.2" stroke="#333" stroke-width="1.1"/>
<line x1="436.1" y1="386.4" x2="437.9" y2="386.4" stroke="#444" stroke-width="0.8"/>
<text x="434.7" y="388.7" font-size="6.4" text-anchor="end" fill="#333">100</text>
<line x1="436.1" y1="417.3" x2="437.9" y2="417.3" stroke="#444" stroke-width="0.8"/>
<text x="434.7" y="419.6" font-size="6.4" text-anchor="end" fill="#333">50</text>
<line x1="436.1" y1="448.2" x2="437.9" y2="448.2" stroke="#444" stroke-width="0.8"/>
<text x="434.7" y="450.5" font-size="6.4" text-anchor="end" fill="#333">0</text>
<line x1="436.9" y1="442.02" x2="437.9" y2="442.02" stroke="#888" stroke-width="0.5"/>
<line x1="436.9" y1="435.84" x2="437.9" y2="435.84" stroke="#888" stroke-width="0.5"/>
<line x1="436.9" y1="429.66" x2="437.9" y2="429.66" stroke="#888" stroke-width="0.5"/>
<line x1="436.9" y1="423.48" x2="437.9" y2="423.48" stroke="#888" stroke-width="0.5"/>
<line x1="436.9" y1="411.12" x2="437.9" y2="411.12" stroke="#888" stroke-width="0.5"/>
<line x1="436.9" y1="404.94" x2="437.9" y2="404.94" stroke="#888" stroke-width="0.5"/>
<line x1="436.9" y1="398.76" x2="437.9" y2="398.76" stroke="#888" stroke-width="0.5"/>
<line x1="436.9" y1="392.58" x2="437.9" y2="392.58" stroke="#888" stroke-width="0.5"/>
<line x1="438.4" y1="448.2" x2="438.4" y2="449.8" stroke="#444" stroke-width="0.7"/>
<text x="433.77" y="458.5" font-size="6.4">10</text>
<text x="440.99" y="455.8" font-size="3.84">2</text>
<line x1="455.7" y1="448.2" x2="455.7" y2="449.8" stroke="#444" stroke-width="0.7"/>
<text x="451.07" y="458.5" font-size="6.4">10</text>
<text x="458.29" y="455.8" font-size="3.84">3</text>
<line x1="473" y1="448.2" x2="473" y2="449.8" stroke="#444" stroke-width="0.7"/>
<text x="468.37" y="458.5" font-size="6.4">10</text>
<text x="475.59" y="455.8" font-size="3.84">4</text>
<line x1="490.3" y1="448.2" x2="490.3" y2="449.8" stroke="#444" stroke-width="0.7"/>
<text x="485.67" y="458.5" font-size="6.4">10</text>
<text x="492.89" y="455.8" font-size="3.84">5</text>
<line x1="507.6" y1="448.2" x2="507.6" y2="449.8" stroke="#444" stroke-width="0.7"/>
<text x="502.97" y="458.5" font-size="6.4">10</text>
<text x="510.19" y="455.8" font-size="3.84">6</text>
<rect x="437.2" y="470.3" width="68.9" height="64.9" fill="none" stroke="#555" stroke-width="0.7" />
<clipPath id="c9"><rect x="437.2" y="470.3" width="68.9" height="64.9"/></clipPath>
<g clip-path="url(#c9)">
<path d="M437.2,535.2 L437.2,531.5 L437.7,531.08 L438.2,530.55 L438.7,530.02 L439.2,529.48 L439.7,528.95 L440.2,528.42 L440.7,527.82 L441.2,526.93 L441.7,526.04 L442.2,525.14 L442.7,524.25 L443.2,523.36 L443.7,522.03 L444.2,520.43 L444.7,518.82 L445.2,517.21 L445.7,515.6 L446.2,513.04 L446.7,510.49 L447.2,507.93 L447.7,505.07 L448.2,501.75 L448.7,498.43 L449.2,495.13 L449.7,491.84 L450.2,488.56 L450.7,486.67 L451.2,485.13 L451.7,483.89 L452.2,483.11 L452.7,483.7 L453.2,485.2 L453.7,487.58 L454.2,491.28 L454.7,495.12 L455.2,499.18 L455.7,503.34 L456.2,507.56 L456.7,511.25 L457.2,514.12 L457.7,517 L458.2,519.66 L458.7,521.47 L459.2,523.27 L459.7,525.07 L460.2,526.88 L460.7,528.29 L461.2,529.43 L461.7,530.58 L462.2,531.73 L462.7,532.87 L463.2,533.45 L463.7,533.88 L464.2,534.31 L464.7,534.74 L465.2,535 L465.5,535.2Z" fill="#b0c0c5"/>
<path d="M444.5,535.2 L444.5,535.2 L445,535.2 L445.5,535.05 L446,534.89 L446.5,534.74 L447,534.58 L447.5,534.43 L448,534.28 L448.5,534.12 L449,533.89 L449.5,533.32 L450,532.76 L450.5,532.2 L451,531.64 L451.5,531.08 L452,530.51 L452.5,529.17 L453,527.62 L453.5,526.08 L454,524.54 L454.5,523 L455,517.95 L455.5,512.91 L456,508.2 L456.5,503.58 L457,499.11 L457.5,494.88 L458,490.65 L458.5,487.54 L459,484.72 L459.5,481.9 L460,480.12 L460.5,479.01 L461,480.55 L461.5,482.09 L462,484.37 L462.5,486.83 L463,489.58 L463.5,493.45 L464,497.32 L464.5,501.77 L465,506.35 L465.5,510.67 L466,514.59 L466.5,518.52 L467,521.51 L467.5,524.28 L468,527.05 L468.5,528.88 L469,530.47 L469.5,532.06 L470,533 L470.5,533.5 L471,534 L471.5,534.5 L472,535 L472.5,535.03 L473,535.07 L473.5,535.1 L474,535.13 L474.5,535.17 L475,535.2 L475.5,535.2 L475.5,535.2Z" fill="#175f9a"/>
<path d="M444.5,535.2 L444.5,535.2 L445,535.2 L445.5,535.05 L446,534.89 L446.5,534.74 L447,534.58 L447.5,534.43 L448,534.28 L448.5,534.12 L449,533.89 L449.5,533.32 L450,532.76 L450.5,532.2 L451,531.64 L451.5,531.08 L452,530.51 L452.5,529.17 L453,527.62 L453.5,526.08 L454,524.54 L454.5,523 L455,517.95 L455.5,512.91 L456,508.2 L456.5,510.1 L457,512.97 L457.5,515.85 L458,518.72 L458.5,520.74 L459,522.55 L459.5,524.35 L460,526.16 L460.5,527.83 L461,528.98 L461.5,530.12 L462,531.27 L462.5,532.41 L463,533.27 L463.5,533.7 L464,534.14 L464.5,534.57 L465,535 L465.5,535 L465.5,535.2Z" fill="#4e7480"/>
<path d="M437.3,531.5 L440.6,528 L443.4,523 L445.7,515.6 L447.5,506.4 L448.9,497.1 L450.3,487.9 L451.5,484.2 L452.4,482.8 L453.5,486.1 L454.5,493.5 L455.4,500.8 L456.5,510.1 L458.1,519.3 L460.4,527.6 L462.8,533.1 L465,535" fill="none" stroke="#1e2a24" stroke-width="0.85" stroke-linejoin="round"/>
<path d="M445,535.2 L448.9,534 L452.1,530.4 L454.5,523 L455.6,511.9 L456.8,500.8 L458.1,489.8 L459.5,481.9 L460.4,478.7 L461.6,482.4 L462.9,488.8 L464.1,498.1 L465.3,509.1 L466.6,519.3 L468.1,527.6 L469.7,532.7 L472,535 L475,535.2" fill="none" stroke="#10263a" stroke-width="0.85" stroke-linejoin="round"/>
</g>
<line x1="437.2" y1="470.3" x2="437.2" y2="535.7" stroke="#444" stroke-width="0.9"/>
<line x1="436.7" y1="535.2" x2="506.1" y2="535.2" stroke="#333" stroke-width="1.1"/>
<line x1="435.4" y1="474.2" x2="437.2" y2="474.2" stroke="#444" stroke-width="0.8"/>
<text x="434" y="476.5" font-size="6.4" text-anchor="end" fill="#333">100</text>
<line x1="435.4" y1="504.7" x2="437.2" y2="504.7" stroke="#444" stroke-width="0.8"/>
<text x="434" y="507" font-size="6.4" text-anchor="end" fill="#333">50</text>
<line x1="435.4" y1="535.2" x2="437.2" y2="535.2" stroke="#444" stroke-width="0.8"/>
<text x="434" y="537.5" font-size="6.4" text-anchor="end" fill="#333">0</text>
<line x1="436.2" y1="529.1" x2="437.2" y2="529.1" stroke="#888" stroke-width="0.5"/>
<line x1="436.2" y1="523" x2="437.2" y2="523" stroke="#888" stroke-width="0.5"/>
<line x1="436.2" y1="516.9" x2="437.2" y2="516.9" stroke="#888" stroke-width="0.5"/>
<line x1="436.2" y1="510.8" x2="437.2" y2="510.8" stroke="#888" stroke-width="0.5"/>
<line x1="436.2" y1="498.6" x2="437.2" y2="498.6" stroke="#888" stroke-width="0.5"/>
<line x1="436.2" y1="492.5" x2="437.2" y2="492.5" stroke="#888" stroke-width="0.5"/>
<line x1="436.2" y1="486.4" x2="437.2" y2="486.4" stroke="#888" stroke-width="0.5"/>
<line x1="436.2" y1="480.3" x2="437.2" y2="480.3" stroke="#888" stroke-width="0.5"/>
<line x1="437.7" y1="535.2" x2="437.7" y2="536.8" stroke="#444" stroke-width="0.7"/>
<text x="433.07" y="545.5" font-size="6.4">10</text>
<text x="440.29" y="542.8" font-size="3.84">2</text>
<line x1="454.93" y1="535.2" x2="454.93" y2="536.8" stroke="#444" stroke-width="0.7"/>
<text x="450.3" y="545.5" font-size="6.4">10</text>
<text x="457.52" y="542.8" font-size="3.84">3</text>
<line x1="472.15" y1="535.2" x2="472.15" y2="536.8" stroke="#444" stroke-width="0.7"/>
<text x="467.52" y="545.5" font-size="6.4">10</text>
<text x="474.74" y="542.8" font-size="3.84">4</text>
<line x1="489.38" y1="535.2" x2="489.38" y2="536.8" stroke="#444" stroke-width="0.7"/>
<text x="484.75" y="545.5" font-size="6.4">10</text>
<text x="491.97" y="542.8" font-size="3.84">5</text>
<line x1="506.6" y1="535.2" x2="506.6" y2="536.8" stroke="#444" stroke-width="0.7"/>
<text x="501.97" y="545.5" font-size="6.4">10</text>
<text x="509.19" y="542.8" font-size="3.84">6</text>
<rect x="438.2" y="557.3" width="69.6" height="66.1" fill="none" stroke="#555" stroke-width="0.7" />
<clipPath id="c10"><rect x="438.2" y="557.3" width="69.6" height="66.1"/></clipPath>
<g clip-path="url(#c10)">
<path d="M438.2,623.4 L438.2,622.8 L438.7,622.56 L439.2,622.26 L439.7,621.96 L440.2,621.66 L440.7,621.36 L441.2,621.06 L441.7,620.76 L442.2,620.16 L442.7,619.49 L443.2,618.82 L443.7,618.14 L444.2,617.47 L444.7,616.8 L445.2,615.4 L445.7,614.01 L446.2,612.61 L446.7,611.22 L447.2,609.59 L447.7,607.07 L448.2,604.54 L448.7,602.02 L449.2,599.21 L449.7,595.97 L450.2,592.74 L450.7,589.16 L451.2,585.05 L451.7,580.94 L452.2,577.75 L452.7,575.18 L453.2,572.6 L453.7,571.92 L454.2,571.24 L454.7,571.6 L455.2,572.23 L455.7,573.72 L456.2,576.51 L456.7,579.3 L457.2,582.26 L457.7,585.22 L458.2,588.48 L458.7,592.17 L459.2,595.86 L459.7,598.86 L460.2,601.68 L460.7,604.51 L461.2,606.99 L461.7,608.97 L462.2,610.95 L462.7,612.92 L463.2,614.9 L463.7,616.02 L464.2,617.13 L464.7,618.25 L465.2,619.36 L465.7,620.48 L466.2,620.99 L466.7,621.35 L467.2,621.71 L467.7,622.08 L468.2,622.44 L468.7,622.8 L469.2,622.91 L469.7,623.02 L470.2,623.13 L470.7,623.23 L471.2,623.3 L471.5,623.4Z" fill="#b0c0c5"/>
<path d="M444.5,623.4 L444.5,623.3 L445,623.3 L445.5,623.2 L446,623.1 L446.5,623 L447,622.9 L447.5,622.8 L448,622.7 L448.5,622.6 L449,622.5 L449.5,622.4 L450,622.12 L450.5,621.84 L451,621.56 L451.5,621.27 L452,620.99 L452.5,620.71 L453,620.43 L453.5,620.15 L454,619.87 L454.5,619.31 L455,618.32 L455.5,617.34 L456,616.35 L456.5,615.36 L457,614.38 L457.5,613.39 L458,609.87 L458.5,604.67 L459,599.15 L459.5,592.4 L460,586.04 L460.5,581.22 L461,576.4 L461.5,573.4 L462,570.4 L462.5,569.33 L463,569.53 L463.5,570.18 L464,572.58 L464.5,575.24 L465,578.93 L465.5,582.62 L466,586.78 L466.5,591.24 L467,595.7 L467.5,599.2 L468,602.7 L468.5,606.2 L469,608.76 L469.5,611.32 L470,613.88 L470.5,615.74 L471,617.13 L471.5,618.53 L472,619.92 L472.5,620.56 L473,621.01 L473.5,621.46 L474,621.9 L474.5,622.35 L475,622.8 L475.5,622.88 L476,622.97 L476.5,623.05 L477,623.13 L477.5,623.22 L478,623.3 L478.5,623.3 L478.5,623.4Z" fill="#175f9a"/>
<path d="M444.5,623.4 L444.5,623.3 L445,623.3 L445.5,623.2 L446,623.1 L446.5,623 L447,622.9 L447.5,622.8 L448,622.7 L448.5,622.6 L449,622.5 L449.5,622.4 L450,622.12 L450.5,621.84 L451,621.56 L451.5,621.27 L452,620.99 L452.5,620.71 L453,620.43 L453.5,620.15 L454,619.87 L454.5,619.31 L455,618.32 L455.5,617.34 L456,616.35 L456.5,615.36 L457,614.38 L457.5,613.39 L458,609.87 L458.5,604.67 L459,599.15 L459.5,597.73 L460,600.55 L460.5,603.38 L461,606.2 L461.5,608.18 L462,610.15 L462.5,612.13 L463,614.11 L463.5,615.57 L464,616.68 L464.5,617.8 L465,618.92 L465.5,620.03 L466,620.84 L466.5,621.21 L467,621.57 L467.5,621.93 L468,622.29 L468.5,622.66 L469,622.87 L469.5,622.97 L470,623.08 L470.5,623.19 L471,623.3 L471.5,623.3 L471.5,623.4Z" fill="#4e7480"/>
<path d="M438.3,622.8 L441.8,620.7 L444.7,616.8 L447.1,610.1 L449,600.5 L450.5,590.8 L451.9,579.3 L453.2,572.6 L454.3,571.1 L455.5,572.6 L456.7,579.3 L458,587 L459.3,596.6 L461,606.2 L463.2,614.9 L465.8,620.7 L468.7,622.8 L471,623.3" fill="none" stroke="#1e2a24" stroke-width="0.85" stroke-linejoin="round"/>
<path d="M445,623.3 L449.5,622.4 L454.3,619.7 L457.7,613 L458.9,600.5 L459.9,587 L461,576.4 L462.2,569.2 L463.4,569.7 L464.4,574.5 L465.7,584.1 L467,595.7 L468.5,606.2 L470.2,614.9 L472.1,620.2 L475,622.8 L478,623.3" fill="none" stroke="#10263a" stroke-width="0.85" stroke-linejoin="round"/>
</g>
<line x1="438.2" y1="557.3" x2="438.2" y2="623.9" stroke="#444" stroke-width="0.9"/>
<line x1="437.7" y1="623.4" x2="507.8" y2="623.4" stroke="#333" stroke-width="1.1"/>
<line x1="436.4" y1="561.4" x2="438.2" y2="561.4" stroke="#444" stroke-width="0.8"/>
<text x="435" y="563.7" font-size="6.4" text-anchor="end" fill="#333">100</text>
<line x1="436.4" y1="592.4" x2="438.2" y2="592.4" stroke="#444" stroke-width="0.8"/>
<text x="435" y="594.7" font-size="6.4" text-anchor="end" fill="#333">50</text>
<line x1="436.4" y1="623.4" x2="438.2" y2="623.4" stroke="#444" stroke-width="0.8"/>
<text x="435" y="625.7" font-size="6.4" text-anchor="end" fill="#333">0</text>
<line x1="437.2" y1="617.2" x2="438.2" y2="617.2" stroke="#888" stroke-width="0.5"/>
<line x1="437.2" y1="611" x2="438.2" y2="611" stroke="#888" stroke-width="0.5"/>
<line x1="437.2" y1="604.8" x2="438.2" y2="604.8" stroke="#888" stroke-width="0.5"/>
<line x1="437.2" y1="598.6" x2="438.2" y2="598.6" stroke="#888" stroke-width="0.5"/>
<line x1="437.2" y1="586.2" x2="438.2" y2="586.2" stroke="#888" stroke-width="0.5"/>
<line x1="437.2" y1="580" x2="438.2" y2="580" stroke="#888" stroke-width="0.5"/>
<line x1="437.2" y1="573.8" x2="438.2" y2="573.8" stroke="#888" stroke-width="0.5"/>
<line x1="437.2" y1="567.6" x2="438.2" y2="567.6" stroke="#888" stroke-width="0.5"/>
<line x1="444.5" y1="623.4" x2="444.5" y2="625" stroke="#444" stroke-width="0.7"/>
<line x1="457.3" y1="623.4" x2="457.3" y2="625" stroke="#444" stroke-width="0.7"/>
<text x="452.67" y="633.8" font-size="6.4">10</text>
<text x="459.89" y="631.1" font-size="3.84">4</text>
<line x1="469.5" y1="623.4" x2="469.5" y2="625" stroke="#444" stroke-width="0.7"/>
<line x1="481.5" y1="623.4" x2="481.5" y2="625" stroke="#444" stroke-width="0.7"/>
<text x="476.87" y="633.8" font-size="6.4">10</text>
<text x="484.09" y="631.1" font-size="3.84">5</text>
<line x1="494" y1="623.4" x2="494" y2="625" stroke="#444" stroke-width="0.7"/>
<line x1="506.3" y1="623.4" x2="506.3" y2="625" stroke="#444" stroke-width="0.7"/>
<text x="501.67" y="633.8" font-size="6.4">10</text>
<text x="508.89" y="631.1" font-size="3.84">6</text>
<text x="467.65" y="650.8" font-size="9.0" text-anchor="middle" fill="#2a2a2a" font-weight="bold" textLength="29.3" lengthAdjust="spacingAndGlyphs">4D7 - APC</text>
<rect x="422.3" y="659" width="6.2" height="6.3" fill="#b0c0c5" />
<text x="431.9" y="664.8" font-size="6.8" fill="#333" textLength="44.3" lengthAdjust="spacingAndGlyphs">Isotype Control</text>
<rect x="483.8" y="659" width="6.2" height="6.3" fill="#175f9a" />
<text x="493.8" y="664.8" font-size="6.8" fill="#333" textLength="12" lengthAdjust="spacingAndGlyphs">4D7</text>
<rect x="0.5" y="0.5" width="519" height="672" fill="none" stroke="#4a4a4a" stroke-width="1"/>
</svg>
</body></html>
